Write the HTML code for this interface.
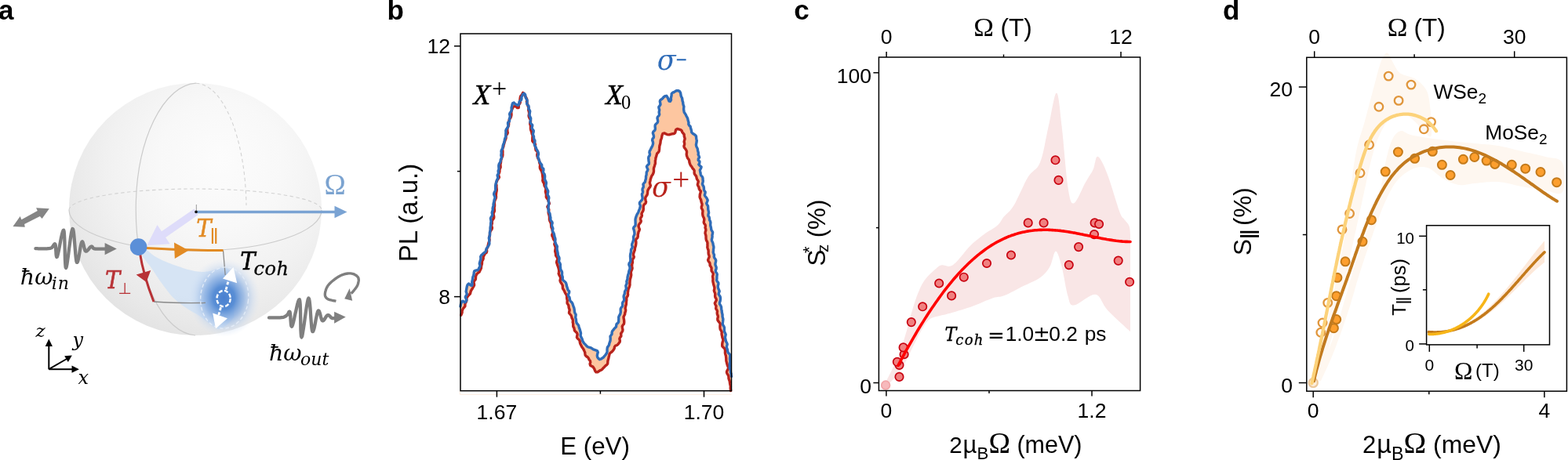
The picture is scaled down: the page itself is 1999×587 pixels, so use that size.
<!DOCTYPE html>
<html><head><meta charset="utf-8"><title>Figure</title>
<style>html,body{margin:0;padding:0;background:#fff;} svg{display:block;}</style>
</head><body>
<svg width="1999" height="587" viewBox="0 0 1999 587">
<rect width="1999" height="587" fill="#fff"/>
<text x="-2.0" y="24.9" font-family="'Liberation Sans', Arial, sans-serif" font-size="35" text-anchor="start" fill="#000" font-weight="bold">a</text>
<text x="493.6" y="24.9" font-family="'Liberation Sans', Arial, sans-serif" font-size="35" text-anchor="start" fill="#000" font-weight="bold">b</text>
<text x="1012.3" y="24.9" font-family="'Liberation Sans', Arial, sans-serif" font-size="35" text-anchor="start" fill="#000" font-weight="bold">c</text>
<text x="1559.0" y="24.9" font-family="'Liberation Sans', Arial, sans-serif" font-size="35" text-anchor="start" fill="#000" font-weight="bold">d</text>
<path d="M587.0,391.0 L587.3,389.2 L587.7,387.5 L588.5,385.8 L589.2,384.6 L589.9,384.1 L591.5,384.9 L592.4,385.9 L593.8,384.8 L594.8,383.1 L594.1,381.1 L593.3,379.2 L594.0,377.5 L595.3,375.8 L594.9,374.0 L594.2,372.1 L594.5,370.3 L594.8,368.5 L595.1,366.7 L595.5,364.9 L596.2,363.2 L597.5,362.0 L598.9,363.0 L600.2,364.1 L601.7,364.3 L602.1,362.4 L601.7,360.4 L601.9,358.7 L602.4,356.9 L602.6,355.1 L602.9,353.4 L603.6,351.6 L604.1,349.9 L604.2,348.1 L604.6,346.0 L606.5,345.1 L608.3,344.8 L609.3,344.6 L610.1,343.4 L610.8,341.8 L611.9,340.2 L611.9,338.4 L611.3,336.4 L611.7,334.7 L612.2,332.9 L612.8,331.2 L612.9,329.4 L612.7,327.5 L613.6,325.8 L615.1,324.4 L616.4,323.3 L617.8,322.1 L619.1,321.0 L619.7,319.4 L620.0,317.6 L621.0,316.1 L622.2,314.5 L623.2,312.8 L623.9,311.1 L623.8,309.3 L623.7,307.4 L623.7,305.6 L623.3,303.7 L623.9,301.9 L624.5,300.2 L624.4,298.4 L624.4,296.6 L624.8,294.8 L625.1,293.0 L625.0,291.2 L625.2,289.4 L625.6,287.7 L625.6,285.8 L625.8,284.0 L626.1,282.3 L625.7,280.4 L625.4,278.5 L626.3,276.8 L627.5,275.2 L627.6,273.4 L627.2,271.5 L627.6,269.8 L628.3,268.0 L628.1,266.2 L628.4,264.4 L629.1,262.7 L629.0,260.9 L629.3,259.1 L629.8,257.4 L630.0,255.6 L630.6,253.8 L631.2,252.1 L630.5,250.2 L629.7,248.3 L629.8,246.5 L630.7,244.8 L631.4,243.1 L631.7,241.3 L631.7,239.5 L631.6,237.6 L631.8,235.8 L632.3,234.1 L632.8,232.3 L633.1,230.6 L633.9,228.9 L635.0,227.2 L634.4,225.3 L634.1,223.4 L635.3,221.8 L635.4,220.0 L635.1,218.1 L635.9,216.4 L636.0,214.6 L635.8,212.7 L635.8,210.9 L636.3,209.2 L637.3,207.5 L638.1,205.9 L638.2,204.0 L639.0,202.4 L639.5,200.6 L638.9,198.7 L639.0,196.9 L639.3,195.1 L639.0,193.2 L639.4,191.5 L640.4,189.8 L641.0,188.1 L641.1,186.3 L641.6,184.5 L642.4,182.8 L642.8,181.1 L643.2,179.4 L643.5,177.6 L644.1,175.9 L644.9,174.2 L644.9,172.4 L644.8,170.5 L645.0,168.7 L644.8,166.8 L645.4,165.1 L646.6,163.5 L647.5,161.9 L648.0,160.2 L647.5,158.2 L647.6,156.4 L649.3,155.0 L649.6,153.2 L649.4,151.3 L650.2,149.6 L650.1,147.7 L649.6,145.7 L650.2,144.1 L651.4,142.5 L652.3,140.8 L652.1,138.9 L652.1,137.1 L652.7,135.4 L652.9,133.6 L653.6,131.8 L655.2,130.9 L656.1,132.2 L657.5,133.2 L659.4,133.9 L660.4,134.4 L661.3,133.8 L661.8,132.2 L661.9,130.4 L662.8,128.8 L664.6,127.4 L665.0,125.6 L664.7,123.7 L665.9,122.2 L666.3,120.6 L668.1,119.2 L669.7,120.9 L669.9,123.0 L670.3,124.8 L671.2,126.4 L672.1,128.0 L672.2,129.9 L671.6,131.9 L672.1,133.5 L673.9,135.0 L674.2,136.7 L673.7,138.6 L674.9,140.3 L675.7,142.0 L675.4,143.8 L675.1,145.7 L675.1,147.5 L675.9,149.2 L676.7,150.9 L676.6,152.8 L676.1,154.6 L676.1,156.5 L677.3,158.1 L678.7,159.7 L678.5,161.6 L677.9,163.5 L679.0,165.1 L680.3,166.7 L680.1,168.5 L679.5,170.5 L679.6,172.3 L680.5,174.0 L680.5,175.8 L680.8,177.6 L681.9,179.2 L681.9,181.1 L681.2,183.1 L681.4,184.9 L682.4,186.5 L683.2,188.2 L683.7,189.9 L684.6,191.5 L685.6,193.1 L686.2,194.8 L686.5,196.6 L686.0,198.6 L685.7,200.5 L686.6,202.1 L687.1,203.9 L687.5,205.6 L688.4,207.3 L689.4,208.9 L690.7,210.4 L690.7,212.2 L691.1,214.0 L692.8,215.4 L692.9,217.2 L692.3,219.3 L693.1,220.9 L694.2,222.5 L694.6,224.3 L694.6,226.1 L694.4,228.0 L694.8,229.7 L695.8,231.4 L696.4,233.1 L696.2,235.0 L695.8,236.9 L696.2,238.6 L696.9,240.3 L697.8,242.0 L698.7,243.7 L698.6,245.5 L698.0,247.4 L698.4,249.2 L699.5,250.9 L699.8,252.7 L699.4,254.5 L699.3,256.3 L699.6,258.1 L699.6,259.9 L699.4,261.7 L699.2,263.6 L699.1,265.4 L699.0,267.2 L699.2,269.1 L699.9,270.8 L700.9,272.4 L701.2,274.2 L701.4,276.0 L701.9,277.8 L701.8,279.6 L702.1,281.4 L703.6,282.9 L704.2,284.6 L703.6,286.6 L703.6,288.4 L704.4,290.1 L704.9,291.8 L704.4,293.8 L704.7,295.6 L705.8,297.2 L706.4,298.9 L706.7,300.7 L707.1,302.4 L707.8,304.1 L708.0,305.9 L707.6,307.8 L708.0,309.6 L708.6,311.3 L709.5,312.9 L710.4,314.6 L710.1,316.5 L710.1,318.3 L710.5,320.1 L710.9,321.8 L711.2,323.6 L711.3,325.4 L712.0,327.1 L712.9,328.8 L713.0,330.6 L712.6,332.5 L712.7,334.3 L713.9,335.9 L714.4,337.7 L714.2,339.5 L714.5,341.3 L714.6,343.2 L715.2,344.8 L716.3,346.4 L716.6,348.2 L716.4,350.1 L716.7,351.9 L717.3,353.6 L717.2,355.5 L717.5,357.3 L719.2,358.7 L720.8,360.0 L721.7,361.6 L722.2,363.4 L722.5,365.1 L723.1,366.8 L723.6,368.6 L724.2,370.3 L725.7,371.7 L725.6,373.6 L724.4,376.0 L724.7,377.7 L725.9,379.2 L726.3,381.0 L726.5,382.8 L727.4,384.4 L728.9,385.8 L729.9,387.4 L730.4,389.1 L731.0,390.8 L731.7,392.5 L732.1,394.3 L732.3,396.1 L732.5,397.9 L733.0,399.6 L734.1,401.2 L734.0,403.1 L733.6,405.0 L734.2,406.7 L734.5,408.5 L734.6,410.3 L735.1,412.1 L736.3,413.6 L737.6,415.2 L738.0,416.9 L738.5,418.7 L739.2,420.3 L739.6,422.1 L740.2,423.8 L740.5,425.6 L740.1,427.5 L740.4,429.3 L741.3,430.9 L742.1,432.5 L742.5,434.2 L743.1,435.8 L744.1,437.3 L745.2,438.6 L746.5,439.9 L747.7,441.3 L749.0,442.5 L750.7,443.2 L752.6,443.6 L754.2,444.3 L755.7,445.4 L757.3,446.2 L759.3,446.8 L761.5,447.8 L762.3,449.6 L761.6,451.9 L761.3,454.0 L761.7,455.8 L762.8,457.4 L764.4,458.7 L766.2,458.2 L767.5,457.2 L769.0,456.3 L770.2,454.9 L771.4,453.5 L772.5,452.1 L773.5,450.5 L774.1,448.8 L774.0,446.9 L774.1,445.0 L774.4,443.3 L775.5,441.7 L776.5,440.1 L776.8,438.3 L777.4,436.6 L778.0,434.9 L778.2,433.1 L778.2,431.2 L778.0,429.3 L779.1,427.8 L780.1,426.3 L780.1,424.3 L780.6,422.5 L781.8,421.1 L782.9,419.7 L784.1,418.4 L785.5,417.1 L785.7,415.2 L786.1,413.4 L787.8,412.1 L788.7,410.4 L788.7,408.5 L788.8,406.7 L788.7,404.8 L789.3,403.1 L790.3,401.5 L791.0,399.8 L791.3,398.1 L791.2,396.2 L791.2,394.3 L791.9,392.7 L793.3,391.2 L793.8,389.5 L793.5,387.5 L793.9,385.7 L795.1,384.2 L795.8,382.5 L795.5,380.6 L795.1,378.6 L795.4,376.9 L796.2,375.2 L796.4,373.4 L796.7,371.6 L797.8,370.0 L798.4,368.3 L798.1,366.4 L797.8,364.5 L798.7,362.8 L799.2,361.1 L798.8,359.2 L799.4,357.5 L800.0,355.8 L800.0,353.9 L800.4,352.2 L800.8,350.4 L801.5,348.7 L801.7,346.9 L802.1,345.2 L802.9,343.5 L803.1,341.7 L802.7,339.8 L801.8,337.8 L802.1,336.1 L803.4,334.4 L803.8,332.7 L803.8,330.8 L803.7,329.0 L803.5,327.2 L803.6,325.4 L803.9,323.6 L804.3,321.8 L804.5,320.0 L804.6,318.2 L805.7,316.6 L806.3,314.8 L805.6,312.9 L805.8,311.1 L806.6,309.4 L807.1,307.7 L807.7,305.9 L807.7,304.1 L807.5,302.3 L808.2,300.5 L808.9,298.8 L808.9,297.0 L808.6,295.2 L808.2,293.3 L807.5,291.4 L808.2,289.7 L809.8,288.1 L810.2,286.3 L810.1,284.5 L810.1,282.7 L810.0,280.8 L810.2,279.0 L810.7,277.3 L811.3,275.6 L812.0,273.9 L812.9,272.3 L813.8,270.8 L814.4,269.0 L815.1,267.4 L815.7,265.6 L816.2,263.9 L816.3,262.1 L815.4,260.1 L815.5,258.3 L817.0,256.7 L818.4,255.1 L819.1,253.4 L819.0,251.6 L818.6,249.7 L818.4,247.8 L819.2,246.1 L819.5,244.4 L819.0,242.4 L819.2,240.6 L820.2,239.0 L820.3,237.1 L819.9,235.2 L821.1,233.6 L822.4,232.1 L822.7,230.3 L823.3,228.6 L823.5,226.8 L823.5,225.0 L824.1,223.3 L824.2,221.5 L824.3,219.7 L825.4,218.0 L826.0,216.3 L825.0,214.3 L824.4,212.4 L825.6,210.7 L827.3,209.2 L827.4,207.4 L827.0,205.5 L826.9,203.7 L826.7,201.8 L827.0,200.0 L828.2,198.4 L828.5,196.6 L827.9,194.7 L828.2,192.9 L829.1,191.3 L829.9,189.6 L830.8,187.9 L831.7,186.2 L832.3,184.5 L832.6,182.7 L832.3,180.9 L831.6,178.9 L832.0,177.1 L833.3,175.6 L833.5,173.8 L833.0,171.8 L832.3,169.8 L832.9,168.1 L834.6,166.6 L835.3,165.0 L835.3,163.1 L835.1,161.2 L835.3,159.4 L836.7,157.9 L838.2,156.4 L838.7,154.7 L838.4,152.7 L838.0,150.8 L838.5,149.1 L840.0,147.6 L840.7,145.9 L840.2,143.9 L840.3,142.1 L840.7,140.3 L840.1,138.4 L839.8,136.5 L841.1,134.9 L842.0,133.3 L841.7,131.3 L841.3,129.3 L841.9,127.6 L844.0,126.3 L845.3,125.1 L846.2,123.7 L847.8,122.7 L849.8,122.3 L850.9,124.0 L851.7,125.7 L852.3,127.3 L853.0,129.0 L854.6,129.2 L855.5,127.4 L855.3,125.4 L855.7,123.6 L856.1,121.9 L856.2,119.6 L857.6,118.1 L859.6,117.5 L861.1,116.4 L862.9,115.6 L864.9,115.7 L866.6,116.8 L867.5,118.4 L867.9,120.3 L868.1,122.1 L868.8,123.7 L869.6,125.3 L869.8,127.1 L870.1,128.9 L870.7,130.6 L870.8,132.4 L871.2,134.2 L871.9,135.9 L871.7,137.7 L871.6,139.6 L871.9,141.4 L872.2,143.2 L873.3,144.8 L874.3,146.4 L875.0,148.0 L875.9,149.6 L876.7,151.2 L877.0,153.0 L877.5,154.7 L878.0,156.5 L877.8,158.5 L878.6,160.1 L880.1,161.4 L880.5,163.2 L881.0,165.0 L881.5,166.8 L881.7,168.8 L883.0,170.2 L884.6,171.2 L886.3,172.4 L887.5,173.9 L887.6,175.8 L887.9,177.6 L888.3,179.4 L888.1,181.2 L887.7,183.1 L887.4,184.9 L887.8,186.7 L888.6,188.4 L889.4,190.1 L889.5,191.9 L890.0,193.7 L890.4,195.4 L890.1,197.3 L891.0,199.0 L891.6,200.7 L890.3,202.7 L890.2,204.5 L891.9,206.1 L891.8,207.9 L890.8,209.9 L892.3,211.5 L894.1,213.1 L893.5,215.0 L892.3,217.0 L892.6,218.8 L893.0,220.5 L893.2,222.3 L893.9,224.0 L895.3,225.6 L896.0,227.3 L896.0,229.1 L896.3,230.9 L896.0,232.8 L895.4,234.8 L896.1,236.5 L897.1,238.1 L897.4,239.9 L897.4,241.7 L898.0,243.4 L899.2,245.0 L898.9,246.9 L898.3,248.9 L899.1,250.5 L900.5,252.1 L901.5,253.8 L902.2,255.5 L901.6,257.4 L900.7,259.4 L901.4,261.1 L902.5,262.7 L902.7,264.5 L902.7,266.3 L902.9,268.1 L903.4,269.9 L903.6,271.7 L903.0,273.6 L902.9,275.4 L904.1,277.1 L904.5,278.8 L904.5,280.6 L905.5,282.3 L905.9,284.1 L905.7,285.9 L905.7,287.7 L906.2,289.5 L906.6,291.3 L906.7,293.0 L907.6,294.7 L908.6,296.4 L908.4,298.3 L907.9,300.2 L908.1,301.9 L907.8,303.8 L907.3,305.7 L907.6,307.5 L908.5,309.2 L909.0,310.9 L909.2,312.7 L909.8,314.4 L909.9,316.2 L909.5,318.1 L909.5,319.9 L909.2,321.8 L909.7,323.5 L910.5,325.2 L910.3,327.1 L910.6,328.8 L911.9,330.5 L912.7,332.2 L912.5,334.0 L912.0,335.9 L911.9,337.8 L912.5,339.5 L913.2,341.2 L913.1,343.0 L912.3,345.0 L912.4,346.8 L913.6,348.4 L914.3,350.1 L914.0,352.0 L913.9,353.8 L913.9,355.7 L913.6,357.5 L914.4,359.2 L915.8,360.8 L915.9,362.6 L915.2,364.6 L915.3,366.4 L915.7,368.1 L916.5,369.8 L917.2,371.6 L916.6,373.4 L916.1,375.3 L917.1,377.0 L918.2,378.7 L918.5,380.5 L918.4,382.3 L918.1,384.1 L917.4,386.1 L917.4,387.9 L918.5,389.5 L919.4,391.2 L919.6,393.0 L919.8,394.8 L920.2,396.6 L920.3,398.4 L920.7,400.1 L921.1,401.9 L921.0,403.7 L921.4,405.5 L921.9,407.2 L921.7,409.1 L921.5,410.9 L921.2,412.8 L921.6,414.6 L922.7,416.2 L923.4,417.9 L923.4,419.8 L923.3,421.6 L923.7,423.4 L924.4,425.1 L925.2,426.7 L924.9,428.6 L924.3,430.5 L924.8,432.3 L925.2,434.1 L925.6,435.8 L926.6,437.5 L927.2,439.2 L926.7,441.1 L926.3,443.0 L926.9,444.7 L927.5,446.4 L927.7,448.2 L928.2,450.0 L929.8,451.6 L930.9,453.2 L930.7,455.1 L930.5,456.9 L930.5,458.7 L930.8,460.5 L930.7,462.3 L930.2,464.2 L930.3,466.0 L930.3,467.9 L930.2,469.7 L931.1,471.4 L931.4,473.1 L931.4,475.0 L932.0,476.7 L932.2,478.5 L932.5,480.3 L931.6,498.5 L931.4,496.7 L931.2,494.9 L931.4,493.1 L931.0,491.3 L930.6,489.5 L930.4,487.7 L930.1,486.0 L929.4,484.3 L928.9,482.5 L929.0,480.7 L928.4,478.9 L927.3,477.3 L926.5,475.6 L926.6,473.8 L927.8,471.7 L928.7,469.8 L928.2,468.0 L927.4,466.3 L926.9,464.6 L926.5,462.8 L926.0,461.1 L925.8,459.3 L925.8,457.5 L925.6,455.7 L925.4,453.9 L924.8,452.2 L924.4,450.4 L924.5,448.6 L924.4,446.8 L924.0,445.0 L922.4,443.5 L920.8,441.9 L920.7,440.1 L920.8,438.3 L921.2,436.4 L922.0,434.4 L921.7,432.6 L920.9,430.9 L920.7,429.2 L920.2,427.4 L920.0,425.6 L920.2,423.8 L919.4,422.1 L918.3,420.4 L918.0,418.7 L917.9,416.9 L918.0,415.0 L918.2,413.1 L917.1,411.5 L915.8,409.9 L914.9,408.3 L914.8,406.4 L915.4,404.5 L915.2,402.7 L914.4,401.0 L914.2,399.2 L914.5,397.3 L913.9,395.6 L912.7,394.0 L912.8,392.2 L913.0,390.3 L911.9,388.6 L911.3,386.9 L912.4,384.9 L913.4,383.0 L913.0,381.2 L911.9,379.5 L911.6,377.8 L911.8,375.9 L911.6,374.1 L910.8,372.4 L910.3,370.7 L910.8,368.8 L910.9,367.0 L910.4,365.2 L909.8,363.5 L909.4,361.7 L909.0,359.9 L908.8,358.2 L909.0,356.3 L908.8,354.5 L908.5,352.7 L909.1,350.8 L909.3,349.0 L908.3,347.3 L907.1,345.7 L907.0,343.9 L907.1,342.0 L906.2,340.3 L905.1,338.7 L905.1,336.9 L904.7,335.1 L903.3,333.6 L902.6,331.8 L903.3,329.9 L904.2,327.9 L904.0,326.1 L903.3,324.4 L903.1,322.6 L903.2,320.8 L903.0,319.0 L902.3,317.3 L901.8,315.5 L902.0,313.7 L901.9,311.9 L902.0,310.1 L901.5,308.3 L900.5,306.6 L900.1,304.9 L900.0,303.1 L900.0,301.2 L899.6,299.5 L899.0,297.7 L899.2,295.9 L899.9,294.0 L899.7,292.2 L899.0,290.5 L899.4,288.6 L899.1,286.8 L897.7,285.2 L897.2,283.5 L897.6,281.6 L897.8,279.7 L897.3,278.0 L896.4,276.3 L895.9,274.5 L895.7,272.8 L895.8,270.9 L896.0,269.1 L895.4,267.4 L894.3,265.7 L894.3,263.9 L895.0,262.0 L895.0,260.1 L894.3,258.4 L893.9,256.7 L893.6,254.9 L892.7,253.2 L892.1,251.5 L892.2,249.7 L892.4,247.8 L893.1,245.8 L893.4,243.9 L892.0,242.4 L891.2,240.7 L891.0,238.9 L890.0,237.3 L889.3,235.6 L889.8,233.6 L890.3,231.6 L889.5,230.0 L888.4,228.4 L888.0,226.6 L887.6,224.9 L886.4,223.4 L885.3,221.8 L885.1,220.0 L885.2,218.0 L884.5,216.4 L883.1,215.0 L882.2,213.4 L881.2,211.9 L880.1,210.4 L879.4,208.7 L878.9,207.0 L878.7,205.1 L878.0,203.4 L876.8,202.0 L876.1,200.3 L875.5,198.6 L875.2,196.8 L875.5,194.9 L875.5,193.1 L874.7,191.4 L873.6,189.8 L872.3,188.1 L871.9,186.4 L872.6,184.5 L872.6,182.6 L872.1,180.9 L872.6,179.0 L873.2,177.1 L872.7,175.3 L872.2,173.5 L872.2,171.6 L871.0,170.1 L869.7,168.6 L869.2,166.8 L867.7,165.6 L865.9,165.2 L864.8,164.7 L863.4,164.5 L861.7,165.5 L861.2,167.3 L860.8,169.2 L859.4,170.6 L857.5,170.8 L855.7,171.1 L854.0,171.8 L852.2,171.9 L850.4,171.6 L848.7,170.7 L847.0,169.9 L845.1,170.3 L844.3,172.1 L843.8,173.8 L843.6,175.6 L843.0,177.3 L842.3,179.0 L842.1,180.8 L841.9,182.6 L841.4,184.4 L840.9,186.1 L840.7,187.9 L840.6,189.7 L840.4,191.5 L840.1,193.3 L839.0,194.8 L837.6,196.1 L837.1,197.9 L836.6,199.7 L836.0,201.4 L835.8,203.3 L835.4,205.0 L835.4,206.9 L835.4,208.7 L834.8,210.4 L834.3,212.2 L833.7,213.9 L833.4,215.6 L833.5,217.5 L833.4,219.3 L832.9,221.1 L832.1,222.7 L831.0,224.2 L830.3,225.9 L829.7,227.6 L829.2,229.3 L828.9,231.1 L828.4,232.9 L828.7,234.8 L829.4,236.8 L828.8,238.5 L827.5,240.1 L826.5,241.7 L825.8,243.3 L825.6,245.1 L825.5,247.0 L825.0,248.7 L823.9,250.3 L822.9,251.9 L822.7,253.7 L823.1,255.6 L823.6,257.6 L823.1,259.4 L821.4,260.8 L820.4,262.4 L820.2,264.2 L820.3,266.1 L820.2,267.9 L819.6,269.6 L818.6,271.2 L817.9,272.9 L818.4,274.9 L817.9,276.6 L816.6,278.2 L816.6,280.0 L817.3,282.0 L816.8,283.7 L815.4,285.3 L814.4,286.9 L814.0,288.7 L814.6,290.6 L815.4,292.6 L814.9,294.4 L814.0,296.0 L813.7,297.8 L813.2,299.6 L813.3,301.4 L812.9,303.2 L811.4,304.7 L810.4,306.3 L810.8,308.2 L810.9,310.1 L810.7,311.9 L810.4,313.7 L809.8,315.4 L809.4,317.1 L809.3,319.0 L808.6,320.7 L808.0,322.4 L807.5,324.1 L807.6,326.0 L808.3,327.9 L807.6,329.6 L806.2,331.2 L806.3,333.1 L806.5,334.9 L805.9,336.6 L805.6,338.4 L805.8,340.3 L806.1,342.1 L805.7,343.9 L804.9,345.6 L804.3,347.3 L804.5,349.2 L804.7,351.0 L804.3,352.8 L803.9,354.6 L803.3,356.3 L803.1,358.1 L803.0,359.9 L802.9,361.7 L803.0,363.5 L802.6,365.3 L802.0,367.0 L801.2,368.7 L800.8,370.5 L800.6,372.3 L800.3,374.0 L800.6,375.9 L800.2,377.7 L799.0,379.3 L798.7,381.1 L798.8,382.9 L798.5,384.7 L798.4,386.5 L798.3,388.3 L797.9,390.1 L797.4,391.8 L797.1,393.6 L797.7,395.5 L797.5,397.3 L796.8,399.0 L796.7,400.8 L795.9,402.5 L795.0,404.2 L795.1,406.0 L795.5,407.9 L795.7,409.8 L795.7,411.6 L795.4,413.4 L794.0,415.0 L793.2,416.6 L793.5,418.5 L793.9,420.4 L793.8,422.2 L792.8,423.9 L791.6,425.5 L791.8,427.3 L791.8,429.2 L790.5,430.7 L789.8,432.4 L790.3,434.4 L790.2,436.3 L789.1,437.8 L788.0,439.3 L786.6,440.5 L784.7,441.1 L783.5,442.5 L783.2,444.6 L782.3,446.2 L781.2,447.6 L780.0,449.0 L778.3,450.1 L777.1,451.5 L776.7,453.4 L776.2,455.2 L775.9,457.0 L775.4,458.7 L774.9,460.4 L774.8,462.3 L774.6,464.2 L773.4,465.7 L771.8,466.9 L770.6,468.2 L769.3,469.4 L768.2,470.8 L766.9,472.0 L765.3,472.6 L763.9,473.4 L762.2,474.7 L759.9,474.9 L758.6,473.2 L757.9,471.2 L757.0,469.6 L756.0,468.1 L754.3,467.3 L752.6,466.2 L752.1,464.4 L752.7,462.2 L752.3,460.4 L751.1,459.0 L750.4,457.3 L749.2,455.8 L747.5,454.7 L746.2,453.3 L745.9,451.4 L745.7,449.6 L744.9,447.9 L744.2,446.3 L743.3,444.7 L742.2,443.3 L741.3,441.7 L740.5,440.1 L739.7,438.5 L739.3,436.7 L739.1,434.9 L738.1,433.3 L736.4,432.0 L735.4,430.4 L735.8,428.4 L736.1,426.4 L735.4,424.7 L733.9,423.3 L732.5,421.9 L732.2,420.1 L731.8,418.3 L730.8,416.8 L730.7,414.9 L730.7,413.0 L730.2,411.3 L730.4,409.4 L730.1,407.5 L729.1,406.0 L728.7,404.2 L728.1,402.5 L726.8,401.0 L725.5,399.5 L725.7,397.6 L726.2,395.6 L725.6,393.9 L725.1,392.2 L725.0,390.4 L724.3,388.7 L723.1,387.1 L723.1,385.2 L723.3,383.4 L722.8,381.6 L722.6,379.8 L722.6,377.9 L722.1,376.2 L721.0,374.6 L720.1,373.0 L719.5,371.3 L718.6,369.8 L717.5,368.3 L717.3,366.4 L717.3,364.5 L716.6,362.9 L715.5,361.3 L714.5,359.7 L714.0,358.0 L714.5,356.0 L714.6,354.2 L713.8,352.5 L712.8,350.8 L712.2,349.1 L712.5,347.2 L712.7,345.4 L712.4,343.6 L711.9,341.8 L711.4,340.1 L710.7,338.4 L710.2,336.7 L709.6,334.9 L709.9,333.1 L710.9,331.1 L710.7,329.3 L709.6,327.6 L708.6,326.0 L708.5,324.2 L708.2,322.4 L707.7,320.7 L707.9,318.8 L708.3,316.9 L708.1,315.1 L707.4,313.4 L706.8,311.7 L707.2,309.8 L707.5,307.9 L706.3,306.3 L705.3,304.6 L705.0,302.9 L703.9,301.2 L703.8,299.4 L704.7,297.4 L704.5,295.6 L704.2,293.9 L703.8,292.1 L703.0,290.4 L702.7,288.6 L702.6,286.8 L702.4,285.0 L701.7,283.3 L700.8,281.7 L700.4,279.9 L700.5,278.1 L700.4,276.3 L700.0,274.5 L699.4,272.8 L699.1,271.0 L699.7,269.1 L699.8,267.2 L698.6,265.6 L697.8,263.9 L699.0,261.9 L700.4,259.9 L699.9,258.2 L699.0,256.5 L698.7,254.7 L697.3,253.1 L696.3,251.4 L696.4,249.6 L696.3,247.7 L695.8,246.0 L695.4,244.3 L695.8,242.4 L695.9,240.5 L695.1,238.8 L694.1,237.2 L693.8,235.4 L693.5,233.6 L692.3,232.1 L691.8,230.3 L692.1,228.4 L692.0,226.6 L691.7,224.8 L691.6,223.0 L691.3,221.2 L690.8,219.4 L690.1,217.8 L689.1,216.2 L688.4,214.5 L688.3,212.7 L688.7,210.7 L688.3,209.0 L687.6,207.3 L687.6,205.4 L686.9,203.7 L685.9,202.1 L685.3,200.4 L684.8,198.7 L684.8,196.8 L685.5,194.8 L684.8,193.2 L683.1,191.7 L682.8,189.9 L682.6,188.1 L682.2,186.4 L682.5,184.5 L681.8,182.8 L679.7,181.4 L678.7,179.8 L678.8,177.9 L678.8,176.0 L679.0,174.2 L678.9,172.4 L678.1,170.7 L677.8,168.9 L677.2,167.2 L676.6,165.4 L676.4,163.6 L676.5,161.8 L676.3,160.0 L675.7,158.3 L675.8,156.4 L676.6,154.5 L676.2,152.7 L675.2,151.1 L674.4,149.4 L674.1,147.6 L674.4,145.7 L674.6,143.9 L674.2,142.1 L673.7,140.4 L673.8,138.5 L673.6,136.7 L673.0,135.0 L672.5,133.3 L672.0,131.6 L671.4,129.9 L671.7,127.9 L671.6,126.1 L670.6,124.5 L669.7,122.9 L668.9,121.2 L668.2,119.5 L666.7,118.4 L665.8,120.0 L665.0,121.5 L663.6,123.0 L663.2,124.8 L663.0,126.6 L662.8,128.4 L663.3,130.4 L662.7,132.1 L661.4,133.6 L661.3,135.4 L661.2,137.5 L659.4,137.5 L658.2,136.2 L656.4,135.7 L654.4,136.1 L653.5,137.8 L652.8,139.5 L652.2,141.2 L651.8,143.0 L651.9,144.9 L652.0,146.7 L651.6,148.5 L651.0,150.2 L649.8,151.7 L649.0,153.4 L648.8,155.2 L648.6,157.0 L648.6,158.9 L648.3,160.7 L647.5,162.3 L646.9,164.0 L646.8,165.8 L646.9,167.7 L647.3,169.6 L646.5,171.3 L645.0,172.8 L645.0,174.7 L645.0,176.5 L644.3,178.2 L643.7,179.9 L643.1,181.6 L642.7,183.4 L642.1,185.1 L641.9,186.9 L641.2,188.6 L640.5,190.3 L640.8,192.2 L640.9,194.0 L640.8,195.9 L640.9,197.7 L640.6,199.5 L639.8,201.1 L639.2,202.9 L638.7,204.6 L638.6,206.4 L638.3,208.2 L637.8,209.9 L638.1,211.8 L638.1,213.7 L637.3,215.3 L636.9,217.1 L636.9,218.9 L636.4,220.7 L635.5,222.3 L635.7,224.2 L636.4,226.1 L635.5,227.8 L634.2,229.4 L633.5,231.1 L632.6,232.8 L632.5,234.6 L633.0,236.5 L632.9,238.3 L633.1,240.2 L633.3,242.0 L633.1,243.8 L632.7,245.6 L632.5,247.4 L632.3,249.2 L632.5,251.0 L632.3,252.8 L631.5,254.5 L630.8,256.2 L630.4,258.0 L630.4,259.8 L630.6,261.6 L630.5,263.4 L630.1,265.2 L630.2,267.0 L630.5,268.9 L629.9,270.6 L629.1,272.3 L629.2,274.2 L629.7,276.0 L629.7,277.9 L628.8,279.6 L627.6,281.2 L627.1,282.9 L627.4,284.8 L626.9,286.5 L626.6,288.3 L627.4,290.3 L627.2,292.1 L626.1,293.7 L625.0,295.3 L624.6,297.0 L624.5,298.9 L624.3,300.7 L623.9,302.4 L623.8,304.2 L624.1,306.1 L623.7,307.9 L623.0,309.6 L622.6,311.3 L622.2,313.1 L621.9,314.9 L621.1,316.5 L620.3,318.2 L620.7,320.3 L620.3,322.2 L618.6,323.3 L617.7,324.8 L616.9,326.4 L616.1,328.1 L616.2,330.0 L615.6,331.6 L614.5,333.3 L614.5,335.1 L614.4,336.9 L613.8,338.6 L613.5,340.4 L613.4,342.3 L612.6,343.9 L611.8,345.5 L611.1,347.1 L609.5,348.2 L608.0,349.5 L607.1,351.2 L606.5,352.9 L606.5,354.8 L606.2,356.6 L604.9,358.2 L603.9,359.8 L604.3,361.7 L604.6,363.7 L603.9,365.3 L602.9,366.9 L602.1,368.5 L601.0,370.1 L600.2,371.6 L599.8,373.3 L599.5,374.7 L598.5,375.7 L597.2,377.0 L596.1,378.4 L595.1,380.0 L594.9,381.8 L594.8,383.7 L594.2,385.4 L593.1,386.9 L592.9,388.7 L592.9,390.7 L591.8,392.2 L590.5,393.6 L589.7,395.2 L589.1,396.9 L589.1,398.9 L588.5,400.5 L587.8,402.2 Z" fill="#fdc6a0" stroke="none"/>
<path d="M587.8,402.2 L588.5,400.5 L589.1,398.9 L589.1,396.9 L589.7,395.2 L590.5,393.6 L591.8,392.2 L592.9,390.7 L592.9,388.7 L593.1,386.9 L594.2,385.4 L594.8,383.7 L594.9,381.8 L595.1,380.0 L596.1,378.4 L597.2,377.0 L598.5,375.7 L599.5,374.7 L599.8,373.3 L600.2,371.6 L601.0,370.1 L602.1,368.5 L602.9,366.9 L603.9,365.3 L604.6,363.7 L604.3,361.7 L603.9,359.8 L604.9,358.2 L606.2,356.6 L606.5,354.8 L606.5,352.9 L607.1,351.2 L608.0,349.5 L609.5,348.2 L611.1,347.1 L611.8,345.5 L612.6,343.9 L613.4,342.3 L613.5,340.4 L613.8,338.6 L614.4,336.9 L614.5,335.1 L614.5,333.3 L615.6,331.6 L616.2,330.0 L616.1,328.1 L616.9,326.4 L617.7,324.8 L618.6,323.3 L620.3,322.2 L620.7,320.3 L620.3,318.2 L621.1,316.5 L621.9,314.9 L622.2,313.1 L622.6,311.3 L623.0,309.6 L623.7,307.9 L624.1,306.1 L623.8,304.2 L623.9,302.4 L624.3,300.7 L624.5,298.9 L624.6,297.0 L625.0,295.3 L626.1,293.7 L627.2,292.1 L627.4,290.3 L626.6,288.3 L626.9,286.5 L627.4,284.8 L627.1,282.9 L627.6,281.2 L628.8,279.6 L629.7,277.9 L629.7,276.0 L629.2,274.2 L629.1,272.3 L629.9,270.6 L630.5,268.9 L630.2,267.0 L630.1,265.2 L630.5,263.4 L630.6,261.6 L630.4,259.8 L630.4,258.0 L630.8,256.2 L631.5,254.5 L632.3,252.8 L632.5,251.0 L632.3,249.2 L632.5,247.4 L632.7,245.6 L633.1,243.8 L633.3,242.0 L633.1,240.2 L632.9,238.3 L633.0,236.5 L632.5,234.6 L632.6,232.8 L633.5,231.1 L634.2,229.4 L635.5,227.8 L636.4,226.1 L635.7,224.2 L635.5,222.3 L636.4,220.7 L636.9,218.9 L636.9,217.1 L637.3,215.3 L638.1,213.7 L638.1,211.8 L637.8,209.9 L638.3,208.2 L638.6,206.4 L638.7,204.6 L639.2,202.9 L639.8,201.1 L640.6,199.5 L640.9,197.7 L640.8,195.9 L640.9,194.0 L640.8,192.2 L640.5,190.3 L641.2,188.6 L641.9,186.9 L642.1,185.1 L642.7,183.4 L643.1,181.6 L643.7,179.9 L644.3,178.2 L645.0,176.5 L645.0,174.7 L645.0,172.8 L646.5,171.3 L647.3,169.6 L646.9,167.7 L646.8,165.8 L646.9,164.0 L647.5,162.3 L648.3,160.7 L648.6,158.9 L648.6,157.0 L648.8,155.2 L649.0,153.4 L649.8,151.7 L651.0,150.2 L651.6,148.5 L652.0,146.7 L651.9,144.9 L651.8,143.0 L652.2,141.2 L652.8,139.5 L653.5,137.8 L654.4,136.1 L656.4,135.7 L658.2,136.2 L659.4,137.5 L661.2,137.5 L661.3,135.4 L661.4,133.6 L662.7,132.1 L663.3,130.4 L662.8,128.4 L663.0,126.6 L663.2,124.8 L663.6,123.0 L665.0,121.5 L665.8,120.0 L666.7,118.4 L668.2,119.5 L668.9,121.2 L669.7,122.9 L670.6,124.5 L671.6,126.1 L671.7,127.9 L671.4,129.9 L672.0,131.6 L672.5,133.3 L673.0,135.0 L673.6,136.7 L673.8,138.5 L673.7,140.4 L674.2,142.1 L674.6,143.9 L674.4,145.7 L674.1,147.6 L674.4,149.4 L675.2,151.1 L676.2,152.7 L676.6,154.5 L675.8,156.4 L675.7,158.3 L676.3,160.0 L676.5,161.8 L676.4,163.6 L676.6,165.4 L677.2,167.2 L677.8,168.9 L678.1,170.7 L678.9,172.4 L679.0,174.2 L678.8,176.0 L678.8,177.9 L678.7,179.8 L679.7,181.4 L681.8,182.8 L682.5,184.5 L682.2,186.4 L682.6,188.1 L682.8,189.9 L683.1,191.7 L684.8,193.2 L685.5,194.8 L684.8,196.8 L684.8,198.7 L685.3,200.4 L685.9,202.1 L686.9,203.7 L687.6,205.4 L687.6,207.3 L688.3,209.0 L688.7,210.7 L688.3,212.7 L688.4,214.5 L689.1,216.2 L690.1,217.8 L690.8,219.4 L691.3,221.2 L691.6,223.0 L691.7,224.8 L692.0,226.6 L692.1,228.4 L691.8,230.3 L692.3,232.1 L693.5,233.6 L693.8,235.4 L694.1,237.2 L695.1,238.8 L695.9,240.5 L695.8,242.4 L695.4,244.3 L695.8,246.0 L696.3,247.7 L696.4,249.6 L696.3,251.4 L697.3,253.1 L698.7,254.7 L699.0,256.5 L699.9,258.2 L700.4,259.9 L699.0,261.9 L697.8,263.9 L698.6,265.6 L699.8,267.2 L699.7,269.1 L699.1,271.0 L699.4,272.8 L700.0,274.5 L700.4,276.3 L700.5,278.1 L700.4,279.9 L700.8,281.7 L701.7,283.3 L702.4,285.0 L702.6,286.8 L702.7,288.6 L703.0,290.4 L703.8,292.1 L704.2,293.9 L704.5,295.6 L704.7,297.4 L703.8,299.4 L703.9,301.2 L705.0,302.9 L705.3,304.6 L706.3,306.3 L707.5,307.9 L707.2,309.8 L706.8,311.7 L707.4,313.4 L708.1,315.1 L708.3,316.9 L707.9,318.8 L707.7,320.7 L708.2,322.4 L708.5,324.2 L708.6,326.0 L709.6,327.6 L710.7,329.3 L710.9,331.1 L709.9,333.1 L709.6,334.9 L710.2,336.7 L710.7,338.4 L711.4,340.1 L711.9,341.8 L712.4,343.6 L712.7,345.4 L712.5,347.2 L712.2,349.1 L712.8,350.8 L713.8,352.5 L714.6,354.2 L714.5,356.0 L714.0,358.0 L714.5,359.7 L715.5,361.3 L716.6,362.9 L717.3,364.5 L717.3,366.4 L717.5,368.3 L718.6,369.8 L719.5,371.3 L720.1,373.0 L721.0,374.6 L722.1,376.2 L722.6,377.9 L722.6,379.8 L722.8,381.6 L723.3,383.4 L723.1,385.2 L723.1,387.1 L724.3,388.7 L725.0,390.4 L725.1,392.2 L725.6,393.9 L726.2,395.6 L725.7,397.6 L725.5,399.5 L726.8,401.0 L728.1,402.5 L728.7,404.2 L729.1,406.0 L730.1,407.5 L730.4,409.4 L730.2,411.3 L730.7,413.0 L730.7,414.9 L730.8,416.8 L731.8,418.3 L732.2,420.1 L732.5,421.9 L733.9,423.3 L735.4,424.7 L736.1,426.4 L735.8,428.4 L735.4,430.4 L736.4,432.0 L738.1,433.3 L739.1,434.9 L739.3,436.7 L739.7,438.5 L740.5,440.1 L741.3,441.7 L742.2,443.3 L743.3,444.7 L744.2,446.3 L744.9,447.9 L745.7,449.6 L745.9,451.4 L746.2,453.3 L747.5,454.7 L749.2,455.8 L750.4,457.3 L751.1,459.0 L752.3,460.4 L752.7,462.2 L752.1,464.4 L752.6,466.2 L754.3,467.3 L756.0,468.1 L757.0,469.6 L757.9,471.2 L758.6,473.2 L759.9,474.9 L762.2,474.7 L763.9,473.4 L765.3,472.6 L766.9,472.0 L768.2,470.8 L769.3,469.4 L770.6,468.2 L771.8,466.9 L773.4,465.7 L774.6,464.2 L774.8,462.3 L774.9,460.4 L775.4,458.7 L775.9,457.0 L776.2,455.2 L776.7,453.4 L777.1,451.5 L778.3,450.1 L780.0,449.0 L781.2,447.6 L782.3,446.2 L783.2,444.6 L783.5,442.5 L784.7,441.1 L786.6,440.5 L788.0,439.3 L789.1,437.8 L790.2,436.3 L790.3,434.4 L789.8,432.4 L790.5,430.7 L791.8,429.2 L791.8,427.3 L791.6,425.5 L792.8,423.9 L793.8,422.2 L793.9,420.4 L793.5,418.5 L793.2,416.6 L794.0,415.0 L795.4,413.4 L795.7,411.6 L795.7,409.8 L795.5,407.9 L795.1,406.0 L795.0,404.2 L795.9,402.5 L796.7,400.8 L796.8,399.0 L797.5,397.3 L797.7,395.5 L797.1,393.6 L797.4,391.8 L797.9,390.1 L798.3,388.3 L798.4,386.5 L798.5,384.7 L798.8,382.9 L798.7,381.1 L799.0,379.3 L800.2,377.7 L800.6,375.9 L800.3,374.0 L800.6,372.3 L800.8,370.5 L801.2,368.7 L802.0,367.0 L802.6,365.3 L803.0,363.5 L802.9,361.7 L803.0,359.9 L803.1,358.1 L803.3,356.3 L803.9,354.6 L804.3,352.8 L804.7,351.0 L804.5,349.2 L804.3,347.3 L804.9,345.6 L805.7,343.9 L806.1,342.1 L805.8,340.3 L805.6,338.4 L805.9,336.6 L806.5,334.9 L806.3,333.1 L806.2,331.2 L807.6,329.6 L808.3,327.9 L807.6,326.0 L807.5,324.1 L808.0,322.4 L808.6,320.7 L809.3,319.0 L809.4,317.1 L809.8,315.4 L810.4,313.7 L810.7,311.9 L810.9,310.1 L810.8,308.2 L810.4,306.3 L811.4,304.7 L812.9,303.2 L813.3,301.4 L813.2,299.6 L813.7,297.8 L814.0,296.0 L814.9,294.4 L815.4,292.6 L814.6,290.6 L814.0,288.7 L814.4,286.9 L815.4,285.3 L816.8,283.7 L817.3,282.0 L816.6,280.0 L816.6,278.2 L817.9,276.6 L818.4,274.9 L817.9,272.9 L818.6,271.2 L819.6,269.6 L820.2,267.9 L820.3,266.1 L820.2,264.2 L820.4,262.4 L821.4,260.8 L823.1,259.4 L823.6,257.6 L823.1,255.6 L822.7,253.7 L822.9,251.9 L823.9,250.3 L825.0,248.7 L825.5,247.0 L825.6,245.1 L825.8,243.3 L826.5,241.7 L827.5,240.1 L828.8,238.5 L829.4,236.8 L828.7,234.8 L828.4,232.9 L828.9,231.1 L829.2,229.3 L829.7,227.6 L830.3,225.9 L831.0,224.2 L832.1,222.7 L832.9,221.1 L833.4,219.3 L833.5,217.5 L833.4,215.6 L833.7,213.9 L834.3,212.2 L834.8,210.4 L835.4,208.7 L835.4,206.9 L835.4,205.0 L835.8,203.3 L836.0,201.4 L836.6,199.7 L837.1,197.9 L837.6,196.1 L839.0,194.8 L840.1,193.3 L840.4,191.5 L840.6,189.7 L840.7,187.9 L840.9,186.1 L841.4,184.4 L841.9,182.6 L842.1,180.8 L842.3,179.0 L843.0,177.3 L843.6,175.6 L843.8,173.8 L844.3,172.1 L845.1,170.3 L847.0,169.9 L848.7,170.7 L850.4,171.6 L852.2,171.9 L854.0,171.8 L855.7,171.1 L857.5,170.8 L859.4,170.6 L860.8,169.2 L861.2,167.3 L861.7,165.5 L863.4,164.5 L864.8,164.7 L865.9,165.2 L867.7,165.6 L869.2,166.8 L869.7,168.6 L871.0,170.1 L872.2,171.6 L872.2,173.5 L872.7,175.3 L873.2,177.1 L872.6,179.0 L872.1,180.9 L872.6,182.6 L872.6,184.5 L871.9,186.4 L872.3,188.1 L873.6,189.8 L874.7,191.4 L875.5,193.1 L875.5,194.9 L875.2,196.8 L875.5,198.6 L876.1,200.3 L876.8,202.0 L878.0,203.4 L878.7,205.1 L878.9,207.0 L879.4,208.7 L880.1,210.4 L881.2,211.9 L882.2,213.4 L883.1,215.0 L884.5,216.4 L885.2,218.0 L885.1,220.0 L885.3,221.8 L886.4,223.4 L887.6,224.9 L888.0,226.6 L888.4,228.4 L889.5,230.0 L890.3,231.6 L889.8,233.6 L889.3,235.6 L890.0,237.3 L891.0,238.9 L891.2,240.7 L892.0,242.4 L893.4,243.9 L893.1,245.8 L892.4,247.8 L892.2,249.7 L892.1,251.5 L892.7,253.2 L893.6,254.9 L893.9,256.7 L894.3,258.4 L895.0,260.1 L895.0,262.0 L894.3,263.9 L894.3,265.7 L895.4,267.4 L896.0,269.1 L895.8,270.9 L895.7,272.8 L895.9,274.5 L896.4,276.3 L897.3,278.0 L897.8,279.7 L897.6,281.6 L897.2,283.5 L897.7,285.2 L899.1,286.8 L899.4,288.6 L899.0,290.5 L899.7,292.2 L899.9,294.0 L899.2,295.9 L899.0,297.7 L899.6,299.5 L900.0,301.2 L900.0,303.1 L900.1,304.9 L900.5,306.6 L901.5,308.3 L902.0,310.1 L901.9,311.9 L902.0,313.7 L901.8,315.5 L902.3,317.3 L903.0,319.0 L903.2,320.8 L903.1,322.6 L903.3,324.4 L904.0,326.1 L904.2,327.9 L903.3,329.9 L902.6,331.8 L903.3,333.6 L904.7,335.1 L905.1,336.9 L905.1,338.7 L906.2,340.3 L907.1,342.0 L907.0,343.9 L907.1,345.7 L908.3,347.3 L909.3,349.0 L909.1,350.8 L908.5,352.7 L908.8,354.5 L909.0,356.3 L908.8,358.2 L909.0,359.9 L909.4,361.7 L909.8,363.5 L910.4,365.2 L910.9,367.0 L910.8,368.8 L910.3,370.7 L910.8,372.4 L911.6,374.1 L911.8,375.9 L911.6,377.8 L911.9,379.5 L913.0,381.2 L913.4,383.0 L912.4,384.9 L911.3,386.9 L911.9,388.6 L913.0,390.3 L912.8,392.2 L912.7,394.0 L913.9,395.6 L914.5,397.3 L914.2,399.2 L914.4,401.0 L915.2,402.7 L915.4,404.5 L914.8,406.4 L914.9,408.3 L915.8,409.9 L917.1,411.5 L918.2,413.1 L918.0,415.0 L917.9,416.9 L918.0,418.7 L918.3,420.4 L919.4,422.1 L920.2,423.8 L920.0,425.6 L920.2,427.4 L920.7,429.2 L920.9,430.9 L921.7,432.6 L922.0,434.4 L921.2,436.4 L920.8,438.3 L920.7,440.1 L920.8,441.9 L922.4,443.5 L924.0,445.0 L924.4,446.8 L924.5,448.6 L924.4,450.4 L924.8,452.2 L925.4,453.9 L925.6,455.7 L925.8,457.5 L925.8,459.3 L926.0,461.1 L926.5,462.8 L926.9,464.6 L927.4,466.3 L928.2,468.0 L928.7,469.8 L927.8,471.7 L926.6,473.8 L926.5,475.6 L927.3,477.3 L928.4,478.9 L929.0,480.7 L928.9,482.5 L929.4,484.3 L930.1,486.0 L930.4,487.7 L930.6,489.5 L931.0,491.3 L931.4,493.1 L931.2,494.9 L931.4,496.7 L931.6,498.5" fill="none" stroke="#b8231c" stroke-width="3.4" stroke-linejoin="round" stroke-linecap="round"/>
<path d="M587.0,391.0 L587.3,389.2 L587.7,387.5 L588.5,385.8 L589.2,384.6 L589.9,384.1 L591.5,384.9 L592.4,385.9 L593.8,384.8 L594.8,383.1 L594.1,381.1 L593.3,379.2 L594.0,377.5 L595.3,375.8 L594.9,374.0 L594.2,372.1 L594.5,370.3 L594.8,368.5 L595.1,366.7 L595.5,364.9 L596.2,363.2 L597.5,362.0 L598.9,363.0 L600.2,364.1 L601.7,364.3 L602.1,362.4 L601.7,360.4 L601.9,358.7 L602.4,356.9 L602.6,355.1 L602.9,353.4 L603.6,351.6 L604.1,349.9 L604.2,348.1 L604.6,346.0 L606.5,345.1 L608.3,344.8 L609.3,344.6 L610.1,343.4 L610.8,341.8 L611.9,340.2 L611.9,338.4 L611.3,336.4 L611.7,334.7 L612.2,332.9 L612.8,331.2 L612.9,329.4 L612.7,327.5 L613.6,325.8 L615.1,324.4 L616.4,323.3 L617.8,322.1 L619.1,321.0 L619.7,319.4 L620.0,317.6 L621.0,316.1 L622.2,314.5 L623.2,312.8 L623.9,311.1 L623.8,309.3 L623.7,307.4 L623.7,305.6 L623.3,303.7 L623.9,301.9 L624.5,300.2 L624.4,298.4 L624.4,296.6 L624.8,294.8 L625.1,293.0 L625.0,291.2 L625.2,289.4 L625.6,287.7 L625.6,285.8 L625.8,284.0 L626.1,282.3 L625.7,280.4 L625.4,278.5 L626.3,276.8 L627.5,275.2 L627.6,273.4 L627.2,271.5 L627.6,269.8 L628.3,268.0 L628.1,266.2 L628.4,264.4 L629.1,262.7 L629.0,260.9 L629.3,259.1 L629.8,257.4 L630.0,255.6 L630.6,253.8 L631.2,252.1 L630.5,250.2 L629.7,248.3 L629.8,246.5 L630.7,244.8 L631.4,243.1 L631.7,241.3 L631.7,239.5 L631.6,237.6 L631.8,235.8 L632.3,234.1 L632.8,232.3 L633.1,230.6 L633.9,228.9 L635.0,227.2 L634.4,225.3 L634.1,223.4 L635.3,221.8 L635.4,220.0 L635.1,218.1 L635.9,216.4 L636.0,214.6 L635.8,212.7 L635.8,210.9 L636.3,209.2 L637.3,207.5 L638.1,205.9 L638.2,204.0 L639.0,202.4 L639.5,200.6 L638.9,198.7 L639.0,196.9 L639.3,195.1 L639.0,193.2 L639.4,191.5 L640.4,189.8 L641.0,188.1 L641.1,186.3 L641.6,184.5 L642.4,182.8 L642.8,181.1 L643.2,179.4 L643.5,177.6 L644.1,175.9 L644.9,174.2 L644.9,172.4 L644.8,170.5 L645.0,168.7 L644.8,166.8 L645.4,165.1 L646.6,163.5 L647.5,161.9 L648.0,160.2 L647.5,158.2 L647.6,156.4 L649.3,155.0 L649.6,153.2 L649.4,151.3 L650.2,149.6 L650.1,147.7 L649.6,145.7 L650.2,144.1 L651.4,142.5 L652.3,140.8 L652.1,138.9 L652.1,137.1 L652.7,135.4 L652.9,133.6 L653.6,131.8 L655.2,130.9 L656.1,132.2 L657.5,133.2 L659.4,133.9 L660.4,134.4 L661.3,133.8 L661.8,132.2 L661.9,130.4 L662.8,128.8 L664.6,127.4 L665.0,125.6 L664.7,123.7 L665.9,122.2 L666.3,120.6 L668.1,119.2 L669.7,120.9 L669.9,123.0 L670.3,124.8 L671.2,126.4 L672.1,128.0 L672.2,129.9 L671.6,131.9 L672.1,133.5 L673.9,135.0 L674.2,136.7 L673.7,138.6 L674.9,140.3 L675.7,142.0 L675.4,143.8 L675.1,145.7 L675.1,147.5 L675.9,149.2 L676.7,150.9 L676.6,152.8 L676.1,154.6 L676.1,156.5 L677.3,158.1 L678.7,159.7 L678.5,161.6 L677.9,163.5 L679.0,165.1 L680.3,166.7 L680.1,168.5 L679.5,170.5 L679.6,172.3 L680.5,174.0 L680.5,175.8 L680.8,177.6 L681.9,179.2 L681.9,181.1 L681.2,183.1 L681.4,184.9 L682.4,186.5 L683.2,188.2 L683.7,189.9 L684.6,191.5 L685.6,193.1 L686.2,194.8 L686.5,196.6 L686.0,198.6 L685.7,200.5 L686.6,202.1 L687.1,203.9 L687.5,205.6 L688.4,207.3 L689.4,208.9 L690.7,210.4 L690.7,212.2 L691.1,214.0 L692.8,215.4 L692.9,217.2 L692.3,219.3 L693.1,220.9 L694.2,222.5 L694.6,224.3 L694.6,226.1 L694.4,228.0 L694.8,229.7 L695.8,231.4 L696.4,233.1 L696.2,235.0 L695.8,236.9 L696.2,238.6 L696.9,240.3 L697.8,242.0 L698.7,243.7 L698.6,245.5 L698.0,247.4 L698.4,249.2 L699.5,250.9 L699.8,252.7 L699.4,254.5 L699.3,256.3 L699.6,258.1 L699.6,259.9 L699.4,261.7 L699.2,263.6 L699.1,265.4 L699.0,267.2 L699.2,269.1 L699.9,270.8 L700.9,272.4 L701.2,274.2 L701.4,276.0 L701.9,277.8 L701.8,279.6 L702.1,281.4 L703.6,282.9 L704.2,284.6 L703.6,286.6 L703.6,288.4 L704.4,290.1 L704.9,291.8 L704.4,293.8 L704.7,295.6 L705.8,297.2 L706.4,298.9 L706.7,300.7 L707.1,302.4 L707.8,304.1 L708.0,305.9 L707.6,307.8 L708.0,309.6 L708.6,311.3 L709.5,312.9 L710.4,314.6 L710.1,316.5 L710.1,318.3 L710.5,320.1 L710.9,321.8 L711.2,323.6 L711.3,325.4 L712.0,327.1 L712.9,328.8 L713.0,330.6 L712.6,332.5 L712.7,334.3 L713.9,335.9 L714.4,337.7 L714.2,339.5 L714.5,341.3 L714.6,343.2 L715.2,344.8 L716.3,346.4 L716.6,348.2 L716.4,350.1 L716.7,351.9 L717.3,353.6 L717.2,355.5 L717.5,357.3 L719.2,358.7 L720.8,360.0 L721.7,361.6 L722.2,363.4 L722.5,365.1 L723.1,366.8 L723.6,368.6 L724.2,370.3 L725.7,371.7 L725.6,373.6 L724.4,376.0 L724.7,377.7 L725.9,379.2 L726.3,381.0 L726.5,382.8 L727.4,384.4 L728.9,385.8 L729.9,387.4 L730.4,389.1 L731.0,390.8 L731.7,392.5 L732.1,394.3 L732.3,396.1 L732.5,397.9 L733.0,399.6 L734.1,401.2 L734.0,403.1 L733.6,405.0 L734.2,406.7 L734.5,408.5 L734.6,410.3 L735.1,412.1 L736.3,413.6 L737.6,415.2 L738.0,416.9 L738.5,418.7 L739.2,420.3 L739.6,422.1 L740.2,423.8 L740.5,425.6 L740.1,427.5 L740.4,429.3 L741.3,430.9 L742.1,432.5 L742.5,434.2 L743.1,435.8 L744.1,437.3 L745.2,438.6 L746.5,439.9 L747.7,441.3 L749.0,442.5 L750.7,443.2 L752.6,443.6 L754.2,444.3 L755.7,445.4 L757.3,446.2 L759.3,446.8 L761.5,447.8 L762.3,449.6 L761.6,451.9 L761.3,454.0 L761.7,455.8 L762.8,457.4 L764.4,458.7 L766.2,458.2 L767.5,457.2 L769.0,456.3 L770.2,454.9 L771.4,453.5 L772.5,452.1 L773.5,450.5 L774.1,448.8 L774.0,446.9 L774.1,445.0 L774.4,443.3 L775.5,441.7 L776.5,440.1 L776.8,438.3 L777.4,436.6 L778.0,434.9 L778.2,433.1 L778.2,431.2 L778.0,429.3 L779.1,427.8 L780.1,426.3 L780.1,424.3 L780.6,422.5 L781.8,421.1 L782.9,419.7 L784.1,418.4 L785.5,417.1 L785.7,415.2 L786.1,413.4 L787.8,412.1 L788.7,410.4 L788.7,408.5 L788.8,406.7 L788.7,404.8 L789.3,403.1 L790.3,401.5 L791.0,399.8 L791.3,398.1 L791.2,396.2 L791.2,394.3 L791.9,392.7 L793.3,391.2 L793.8,389.5 L793.5,387.5 L793.9,385.7 L795.1,384.2 L795.8,382.5 L795.5,380.6 L795.1,378.6 L795.4,376.9 L796.2,375.2 L796.4,373.4 L796.7,371.6 L797.8,370.0 L798.4,368.3 L798.1,366.4 L797.8,364.5 L798.7,362.8 L799.2,361.1 L798.8,359.2 L799.4,357.5 L800.0,355.8 L800.0,353.9 L800.4,352.2 L800.8,350.4 L801.5,348.7 L801.7,346.9 L802.1,345.2 L802.9,343.5 L803.1,341.7 L802.7,339.8 L801.8,337.8 L802.1,336.1 L803.4,334.4 L803.8,332.7 L803.8,330.8 L803.7,329.0 L803.5,327.2 L803.6,325.4 L803.9,323.6 L804.3,321.8 L804.5,320.0 L804.6,318.2 L805.7,316.6 L806.3,314.8 L805.6,312.9 L805.8,311.1 L806.6,309.4 L807.1,307.7 L807.7,305.9 L807.7,304.1 L807.5,302.3 L808.2,300.5 L808.9,298.8 L808.9,297.0 L808.6,295.2 L808.2,293.3 L807.5,291.4 L808.2,289.7 L809.8,288.1 L810.2,286.3 L810.1,284.5 L810.1,282.7 L810.0,280.8 L810.2,279.0 L810.7,277.3 L811.3,275.6 L812.0,273.9 L812.9,272.3 L813.8,270.8 L814.4,269.0 L815.1,267.4 L815.7,265.6 L816.2,263.9 L816.3,262.1 L815.4,260.1 L815.5,258.3 L817.0,256.7 L818.4,255.1 L819.1,253.4 L819.0,251.6 L818.6,249.7 L818.4,247.8 L819.2,246.1 L819.5,244.4 L819.0,242.4 L819.2,240.6 L820.2,239.0 L820.3,237.1 L819.9,235.2 L821.1,233.6 L822.4,232.1 L822.7,230.3 L823.3,228.6 L823.5,226.8 L823.5,225.0 L824.1,223.3 L824.2,221.5 L824.3,219.7 L825.4,218.0 L826.0,216.3 L825.0,214.3 L824.4,212.4 L825.6,210.7 L827.3,209.2 L827.4,207.4 L827.0,205.5 L826.9,203.7 L826.7,201.8 L827.0,200.0 L828.2,198.4 L828.5,196.6 L827.9,194.7 L828.2,192.9 L829.1,191.3 L829.9,189.6 L830.8,187.9 L831.7,186.2 L832.3,184.5 L832.6,182.7 L832.3,180.9 L831.6,178.9 L832.0,177.1 L833.3,175.6 L833.5,173.8 L833.0,171.8 L832.3,169.8 L832.9,168.1 L834.6,166.6 L835.3,165.0 L835.3,163.1 L835.1,161.2 L835.3,159.4 L836.7,157.9 L838.2,156.4 L838.7,154.7 L838.4,152.7 L838.0,150.8 L838.5,149.1 L840.0,147.6 L840.7,145.9 L840.2,143.9 L840.3,142.1 L840.7,140.3 L840.1,138.4 L839.8,136.5 L841.1,134.9 L842.0,133.3 L841.7,131.3 L841.3,129.3 L841.9,127.6 L844.0,126.3 L845.3,125.1 L846.2,123.7 L847.8,122.7 L849.8,122.3 L850.9,124.0 L851.7,125.7 L852.3,127.3 L853.0,129.0 L854.6,129.2 L855.5,127.4 L855.3,125.4 L855.7,123.6 L856.1,121.9 L856.2,119.6 L857.6,118.1 L859.6,117.5 L861.1,116.4 L862.9,115.6 L864.9,115.7 L866.6,116.8 L867.5,118.4 L867.9,120.3 L868.1,122.1 L868.8,123.7 L869.6,125.3 L869.8,127.1 L870.1,128.9 L870.7,130.6 L870.8,132.4 L871.2,134.2 L871.9,135.9 L871.7,137.7 L871.6,139.6 L871.9,141.4 L872.2,143.2 L873.3,144.8 L874.3,146.4 L875.0,148.0 L875.9,149.6 L876.7,151.2 L877.0,153.0 L877.5,154.7 L878.0,156.5 L877.8,158.5 L878.6,160.1 L880.1,161.4 L880.5,163.2 L881.0,165.0 L881.5,166.8 L881.7,168.8 L883.0,170.2 L884.6,171.2 L886.3,172.4 L887.5,173.9 L887.6,175.8 L887.9,177.6 L888.3,179.4 L888.1,181.2 L887.7,183.1 L887.4,184.9 L887.8,186.7 L888.6,188.4 L889.4,190.1 L889.5,191.9 L890.0,193.7 L890.4,195.4 L890.1,197.3 L891.0,199.0 L891.6,200.7 L890.3,202.7 L890.2,204.5 L891.9,206.1 L891.8,207.9 L890.8,209.9 L892.3,211.5 L894.1,213.1 L893.5,215.0 L892.3,217.0 L892.6,218.8 L893.0,220.5 L893.2,222.3 L893.9,224.0 L895.3,225.6 L896.0,227.3 L896.0,229.1 L896.3,230.9 L896.0,232.8 L895.4,234.8 L896.1,236.5 L897.1,238.1 L897.4,239.9 L897.4,241.7 L898.0,243.4 L899.2,245.0 L898.9,246.9 L898.3,248.9 L899.1,250.5 L900.5,252.1 L901.5,253.8 L902.2,255.5 L901.6,257.4 L900.7,259.4 L901.4,261.1 L902.5,262.7 L902.7,264.5 L902.7,266.3 L902.9,268.1 L903.4,269.9 L903.6,271.7 L903.0,273.6 L902.9,275.4 L904.1,277.1 L904.5,278.8 L904.5,280.6 L905.5,282.3 L905.9,284.1 L905.7,285.9 L905.7,287.7 L906.2,289.5 L906.6,291.3 L906.7,293.0 L907.6,294.7 L908.6,296.4 L908.4,298.3 L907.9,300.2 L908.1,301.9 L907.8,303.8 L907.3,305.7 L907.6,307.5 L908.5,309.2 L909.0,310.9 L909.2,312.7 L909.8,314.4 L909.9,316.2 L909.5,318.1 L909.5,319.9 L909.2,321.8 L909.7,323.5 L910.5,325.2 L910.3,327.1 L910.6,328.8 L911.9,330.5 L912.7,332.2 L912.5,334.0 L912.0,335.9 L911.9,337.8 L912.5,339.5 L913.2,341.2 L913.1,343.0 L912.3,345.0 L912.4,346.8 L913.6,348.4 L914.3,350.1 L914.0,352.0 L913.9,353.8 L913.9,355.7 L913.6,357.5 L914.4,359.2 L915.8,360.8 L915.9,362.6 L915.2,364.6 L915.3,366.4 L915.7,368.1 L916.5,369.8 L917.2,371.6 L916.6,373.4 L916.1,375.3 L917.1,377.0 L918.2,378.7 L918.5,380.5 L918.4,382.3 L918.1,384.1 L917.4,386.1 L917.4,387.9 L918.5,389.5 L919.4,391.2 L919.6,393.0 L919.8,394.8 L920.2,396.6 L920.3,398.4 L920.7,400.1 L921.1,401.9 L921.0,403.7 L921.4,405.5 L921.9,407.2 L921.7,409.1 L921.5,410.9 L921.2,412.8 L921.6,414.6 L922.7,416.2 L923.4,417.9 L923.4,419.8 L923.3,421.6 L923.7,423.4 L924.4,425.1 L925.2,426.7 L924.9,428.6 L924.3,430.5 L924.8,432.3 L925.2,434.1 L925.6,435.8 L926.6,437.5 L927.2,439.2 L926.7,441.1 L926.3,443.0 L926.9,444.7 L927.5,446.4 L927.7,448.2 L928.2,450.0 L929.8,451.6 L930.9,453.2 L930.7,455.1 L930.5,456.9 L930.5,458.7 L930.8,460.5 L930.7,462.3 L930.2,464.2 L930.3,466.0 L930.3,467.9 L930.2,469.7 L931.1,471.4 L931.4,473.1 L931.4,475.0 L932.0,476.7 L932.2,478.5 L932.5,480.3" fill="none" stroke="#2f6cb8" stroke-width="3.4" stroke-linejoin="round" stroke-linecap="round"/>
<path d="M586.4,499 L586.4,503.4 L932.5,503.4" fill="none" stroke="#fdebdf" stroke-width="1"/>
<rect x="587.0" y="43.0" width="345.5" height="455.7" fill="none" stroke="#000" stroke-width="1.5"/>
<line x1="579.0" y1="58.8" x2="587.0" y2="58.8" stroke="#000" stroke-width="1.5" />
<text x="574.0" y="68.1" font-family="'Liberation Sans', Arial, sans-serif" font-size="26.5" text-anchor="end" fill="#000" >12</text>
<line x1="583.0" y1="218.6" x2="587.0" y2="218.6" stroke="#000" stroke-width="1.5" />
<line x1="579.0" y1="378.6" x2="587.0" y2="378.6" stroke="#000" stroke-width="1.5" />
<text x="574.0" y="387.9" font-family="'Liberation Sans', Arial, sans-serif" font-size="26.5" text-anchor="end" fill="#000" >8</text>
<line x1="633.4" y1="498.7" x2="633.4" y2="506.7" stroke="#000" stroke-width="1.5" />
<text x="633.4" y="535.0" font-family="'Liberation Sans', Arial, sans-serif" font-size="26.5" text-anchor="middle" fill="#000" >1.67</text>
<line x1="765.4" y1="498.7" x2="765.4" y2="502.7" stroke="#000" stroke-width="1.5" />
<line x1="897.5" y1="498.7" x2="897.5" y2="506.7" stroke="#000" stroke-width="1.5" />
<text x="897.5" y="535.0" font-family="'Liberation Sans', Arial, sans-serif" font-size="26.5" text-anchor="middle" fill="#000" >1.70</text>
<text x="758.5" y="580.0" font-family="'Liberation Sans', Arial, sans-serif" font-size="31.3" text-anchor="middle" fill="#000" >E (eV)</text>
<text transform="translate(531.6,271.5) rotate(-90)" font-family="'Liberation Sans', Arial, sans-serif" font-size="33" text-anchor="middle">PL (a.u.)</text>
<text x="603.3" y="132.5" font-family="'Liberation Serif', 'Times New Roman', serif" font-size="36" font-style="italic" stroke="#000" stroke-width="0.5">X</text>
<text x="627" y="124.2" font-family="'Liberation Serif', 'Times New Roman', serif" font-size="34">+</text>
<text x="771.9" y="132.5" font-family="'Liberation Serif', 'Times New Roman', serif" font-size="36" font-style="italic" stroke="#000" stroke-width="0.5">X</text>
<text x="792" y="139.4" font-family="'Liberation Serif', 'Times New Roman', serif" font-size="24.5">0</text>
<text x="837.7" y="89" font-family="'DejaVu Serif', serif" font-size="35" font-style="italic" fill="#2f6cb8">σ</text>
<text x="861.9" y="84.2" font-family="'Liberation Sans', Arial, sans-serif" font-size="23" fill="#2f6cb8" stroke="#2f6cb8" stroke-width="0.5">−</text>
<text x="831" y="251" font-family="'DejaVu Serif', serif" font-size="35" font-style="italic" fill="#b8231c">σ</text>
<text x="857.2" y="241.7" font-family="'Liberation Serif', 'Times New Roman', serif" font-size="39" fill="#b8231c">+</text>
<path d="M1129.0,488.0 L1130.3,485.4 L1132.0,482.0 L1134.1,477.9 L1136.4,473.4 L1138.7,468.6 L1141.0,463.8 L1143.2,459.2 L1145.0,455.0 L1146.6,451.1 L1148.0,447.2 L1149.3,443.3 L1150.6,439.5 L1151.8,435.7 L1152.9,432.0 L1154.0,428.5 L1155.0,425.0 L1156.0,421.7 L1156.8,418.5 L1157.6,415.5 L1158.4,412.5 L1159.1,409.6 L1159.9,406.7 L1160.7,403.7 L1161.6,400.6 L1162.6,397.4 L1163.6,394.1 L1164.6,390.7 L1165.6,387.4 L1166.7,384.1 L1167.8,380.9 L1168.9,377.8 L1170.0,375.0 L1171.1,372.4 L1172.1,369.9 L1173.1,367.6 L1174.1,365.4 L1175.2,363.3 L1176.4,361.2 L1177.6,359.2 L1179.0,357.2 L1180.6,355.2 L1182.4,353.1 L1184.3,351.1 L1186.3,349.1 L1188.3,347.3 L1190.2,345.5 L1191.9,344.0 L1193.4,342.7 L1194.6,341.6 L1195.7,340.8 L1196.5,340.1 L1197.3,339.5 L1198.1,339.1 L1198.8,338.7 L1199.7,338.5 L1200.7,338.3 L1201.8,338.3 L1203.1,338.4 L1204.3,338.8 L1205.7,339.1 L1207.0,339.5 L1208.3,339.8 L1209.6,339.9 L1210.8,339.8 L1211.9,339.5 L1212.9,339.2 L1213.8,338.8 L1214.7,338.3 L1215.7,337.6 L1216.7,336.6 L1218.0,335.5 L1219.5,334.0 L1221.3,332.1 L1223.2,329.8 L1225.4,327.2 L1227.7,324.4 L1230.0,321.5 L1232.3,318.7 L1234.7,316.1 L1236.9,313.7 L1239.1,311.6 L1241.3,309.6 L1243.4,307.7 L1245.6,305.9 L1247.8,304.2 L1250.0,302.5 L1252.1,300.8 L1254.3,299.2 L1256.5,297.6 L1258.8,296.1 L1261.2,294.6 L1263.5,293.2 L1265.8,291.8 L1267.9,290.4 L1269.9,289.0 L1271.6,287.6 L1273.0,286.2 L1274.2,284.8 L1275.2,283.5 L1276.1,282.1 L1277.0,280.7 L1277.8,279.3 L1278.8,277.8 L1280.0,276.3 L1281.3,274.9 L1282.7,273.6 L1284.1,272.3 L1285.5,271.0 L1287.1,269.5 L1288.7,267.6 L1290.4,265.3 L1292.3,262.5 L1294.3,258.9 L1296.5,254.5 L1298.9,249.6 L1301.3,244.4 L1303.8,239.2 L1306.2,234.1 L1308.5,229.6 L1310.7,225.7 L1312.8,222.7 L1314.9,220.5 L1316.9,218.7 L1318.8,217.1 L1320.7,215.4 L1322.6,213.4 L1324.3,210.8 L1326.0,207.3 L1327.6,202.8 L1329.0,197.7 L1330.4,191.9 L1331.7,185.8 L1332.9,179.5 L1334.2,173.2 L1335.4,167.1 L1336.7,161.3 L1338.0,155.2 L1339.4,148.3 L1340.7,141.2 L1342.1,134.3 L1343.4,128.1 L1344.6,123.0 L1345.8,119.6 L1346.9,118.4 L1347.9,119.4 L1348.8,122.3 L1349.6,126.7 L1350.4,132.4 L1351.2,139.0 L1351.9,146.2 L1352.7,153.7 L1353.6,161.3 L1354.5,169.6 L1355.5,179.4 L1356.4,190.0 L1357.4,201.0 L1358.4,211.8 L1359.4,221.9 L1360.3,230.8 L1361.3,238.0 L1362.2,243.7 L1363.0,248.4 L1363.8,252.3 L1364.6,255.3 L1365.5,257.5 L1366.5,258.9 L1367.6,259.5 L1368.9,259.5 L1370.5,258.3 L1372.3,255.8 L1374.4,252.2 L1376.5,248.0 L1378.6,243.5 L1380.7,239.1 L1382.6,235.1 L1384.3,231.9 L1385.8,229.4 L1387.1,227.2 L1388.3,225.3 L1389.5,223.5 L1390.5,221.8 L1391.6,220.2 L1392.5,218.4 L1393.5,216.5 L1394.4,214.2 L1395.1,211.5 L1395.7,208.6 L1396.4,205.7 L1397.0,203.1 L1397.7,201.1 L1398.6,199.9 L1399.6,199.7 L1400.8,200.5 L1402.2,202.1 L1403.6,204.3 L1405.2,207.2 L1406.8,210.5 L1408.5,214.3 L1410.2,218.4 L1411.9,222.7 L1413.7,227.7 L1415.7,233.7 L1417.8,240.3 L1419.9,247.2 L1422.0,253.9 L1424.0,260.2 L1425.7,265.7 L1427.2,270.0 L1428.4,273.0 L1429.4,275.2 L1430.2,276.6 L1430.8,277.4 L1431.4,278.0 L1432.0,278.5 L1432.6,279.1 L1433.3,280.0 L1434.1,281.1 L1435.0,282.1 L1435.8,283.1 L1436.7,284.1 L1437.5,285.1 L1438.3,286.1 L1438.9,287.2 L1439.5,288.4 L1439.9,289.8 L1440.2,291.3 L1440.5,293.0 L1440.6,294.7 L1440.8,296.4 L1440.8,297.8 L1440.9,299.1 L1441.0,300.0 L1441.0,423.3 L1438.7,421.1 L1435.4,418.2 L1431.6,414.6 L1427.4,410.7 L1423.1,406.7 L1418.9,402.7 L1415.1,399.0 L1411.9,395.7 L1409.4,392.6 L1407.4,389.4 L1405.7,386.2 L1404.1,383.2 L1402.6,380.5 L1400.9,378.2 L1398.9,376.6 L1396.5,375.8 L1393.5,376.1 L1390.0,377.5 L1386.2,379.7 L1382.2,382.2 L1378.3,384.9 L1374.7,387.2 L1371.5,388.9 L1368.9,389.6 L1367.0,389.5 L1365.6,388.9 L1364.6,388.0 L1363.9,386.6 L1363.3,384.9 L1362.7,382.7 L1362.1,380.2 L1361.3,377.3 L1360.3,373.8 L1359.4,369.4 L1358.4,364.6 L1357.5,359.4 L1356.5,354.1 L1355.5,349.1 L1354.6,344.5 L1353.6,340.5 L1352.6,336.9 L1351.7,333.4 L1350.7,330.1 L1349.7,327.0 L1348.8,324.4 L1347.8,322.4 L1346.9,321.1 L1345.9,320.6 L1345.0,321.2 L1344.1,322.9 L1343.2,325.4 L1342.4,328.4 L1341.5,331.7 L1340.5,335.0 L1339.5,338.0 L1338.3,340.5 L1337.1,342.5 L1335.8,344.4 L1334.4,346.3 L1333.0,348.0 L1331.5,349.6 L1329.8,351.2 L1328.0,352.8 L1326.0,354.3 L1323.8,355.8 L1321.3,357.2 L1318.7,358.5 L1316.0,359.8 L1313.2,361.1 L1310.3,362.4 L1307.4,363.7 L1304.5,365.1 L1301.5,366.6 L1298.3,368.3 L1295.1,370.0 L1291.8,371.7 L1288.6,373.3 L1285.5,374.9 L1282.6,376.2 L1280.0,377.3 L1277.8,378.1 L1276.1,378.5 L1274.6,378.7 L1273.2,378.8 L1271.7,378.9 L1270.1,379.2 L1268.2,379.6 L1265.8,380.3 L1262.9,381.4 L1259.6,382.7 L1256.0,384.1 L1252.3,385.7 L1248.4,387.4 L1244.5,389.0 L1240.6,390.5 L1236.9,391.9 L1233.2,393.1 L1229.5,394.3 L1225.7,395.5 L1221.9,396.6 L1218.2,397.7 L1214.6,398.7 L1211.2,399.7 L1207.9,400.6 L1204.8,401.4 L1201.7,402.1 L1198.8,402.8 L1196.0,403.4 L1193.3,404.0 L1190.8,404.7 L1188.5,405.6 L1186.4,406.6 L1184.6,407.8 L1183.1,409.0 L1181.8,410.4 L1180.7,411.8 L1179.6,413.4 L1178.6,415.1 L1177.4,416.9 L1176.2,418.9 L1174.9,421.1 L1173.6,423.3 L1172.2,425.8 L1170.9,428.3 L1169.5,431.0 L1168.1,433.9 L1166.6,436.9 L1165.0,440.0 L1163.3,443.4 L1161.5,447.2 L1159.7,451.1 L1157.7,455.2 L1155.8,459.2 L1153.8,463.1 L1151.9,466.8 L1150.0,470.0 L1148.1,472.9 L1146.0,475.7 L1144.0,478.3 L1141.9,480.7 L1140.0,482.9 L1138.1,484.8 L1136.4,486.5 L1135.0,488.0 L1133.8,489.1 L1132.7,489.9 L1131.8,490.4 L1131.1,490.6 L1130.4,490.8 L1129.9,490.8 L1129.4,490.9 L1129.0,491.0 Z" fill="#f9e6e6" stroke="none"/>
<circle cx="1129.1" cy="491.6" r="5.4" fill="#f7b9bc" stroke="#f2a5a8" stroke-width="1.7"/>
<circle cx="1146.5" cy="480.9" r="5.2" fill="#f08080" stroke="#c8000f" stroke-width="1.7"/>
<circle cx="1146.5" cy="465.9" r="5.2" fill="#f08080" stroke="#c8000f" stroke-width="1.7"/>
<circle cx="1143.8" cy="461.8" r="5.2" fill="#f08080" stroke="#c8000f" stroke-width="1.7"/>
<circle cx="1152.6" cy="452.2" r="5.2" fill="#f08080" stroke="#c8000f" stroke-width="1.7"/>
<circle cx="1151.6" cy="443.4" r="5.2" fill="#f08080" stroke="#c8000f" stroke-width="1.7"/>
<circle cx="1161.8" cy="411.1" r="5.2" fill="#f08080" stroke="#c8000f" stroke-width="1.7"/>
<circle cx="1176.2" cy="391.3" r="5.2" fill="#f08080" stroke="#c8000f" stroke-width="1.7"/>
<circle cx="1197.2" cy="361.5" r="5.2" fill="#f08080" stroke="#c8000f" stroke-width="1.7"/>
<circle cx="1213.1" cy="377.4" r="5.2" fill="#f08080" stroke="#c8000f" stroke-width="1.7"/>
<circle cx="1228.8" cy="353.7" r="5.2" fill="#f08080" stroke="#c8000f" stroke-width="1.7"/>
<circle cx="1258.0" cy="336.0" r="5.2" fill="#f08080" stroke="#c8000f" stroke-width="1.7"/>
<circle cx="1289.0" cy="325.5" r="5.2" fill="#f08080" stroke="#c8000f" stroke-width="1.7"/>
<circle cx="1310.7" cy="284.4" r="5.2" fill="#f08080" stroke="#c8000f" stroke-width="1.7"/>
<circle cx="1330.6" cy="284.4" r="5.2" fill="#f08080" stroke="#c8000f" stroke-width="1.7"/>
<circle cx="1345.5" cy="204.3" r="5.2" fill="#f08080" stroke="#c8000f" stroke-width="1.7"/>
<circle cx="1349.5" cy="229.9" r="5.2" fill="#f08080" stroke="#c8000f" stroke-width="1.7"/>
<circle cx="1362.8" cy="338.1" r="5.2" fill="#f08080" stroke="#c8000f" stroke-width="1.7"/>
<circle cx="1375.1" cy="315.1" r="5.2" fill="#f08080" stroke="#c8000f" stroke-width="1.7"/>
<circle cx="1395.6" cy="284.4" r="5.2" fill="#f08080" stroke="#c8000f" stroke-width="1.7"/>
<circle cx="1401.1" cy="286.0" r="5.2" fill="#f08080" stroke="#c8000f" stroke-width="1.7"/>
<circle cx="1395.0" cy="299.1" r="5.2" fill="#f08080" stroke="#c8000f" stroke-width="1.7"/>
<circle cx="1425.7" cy="332.6" r="5.2" fill="#f08080" stroke="#c8000f" stroke-width="1.7"/>
<circle cx="1440.1" cy="359.8" r="5.2" fill="#f08080" stroke="#c8000f" stroke-width="1.7"/>
<path d="M1145.0,466.3 L1147.0,462.5 L1149.0,458.8 L1151.0,455.1 L1152.9,451.5 L1154.9,447.9 L1156.9,444.3 L1158.9,440.8 L1160.9,437.3 L1162.9,433.8 L1164.9,430.4 L1166.9,427.0 L1168.8,423.6 L1170.8,420.3 L1172.8,417.0 L1174.8,413.8 L1176.8,410.6 L1178.8,407.4 L1180.8,404.3 L1182.7,401.3 L1184.7,398.2 L1186.7,395.2 L1188.7,392.3 L1190.7,389.4 L1192.7,386.5 L1194.7,383.7 L1196.7,380.9 L1198.6,378.2 L1200.6,375.5 L1202.6,372.8 L1204.6,370.2 L1206.6,367.7 L1208.6,365.2 L1210.6,362.7 L1212.5,360.3 L1214.5,357.9 L1216.5,355.5 L1218.5,353.2 L1220.5,351.0 L1222.5,348.8 L1224.5,346.6 L1226.4,344.5 L1228.4,342.5 L1230.4,340.4 L1232.4,338.5 L1234.4,336.5 L1236.4,334.7 L1238.4,332.8 L1240.4,331.0 L1242.3,329.3 L1244.3,327.6 L1246.3,325.9 L1248.3,324.3 L1250.3,322.7 L1252.3,321.2 L1254.3,319.7 L1256.2,318.3 L1258.2,316.9 L1260.2,315.5 L1262.2,314.2 L1264.2,312.9 L1266.2,311.7 L1268.2,310.5 L1270.2,309.4 L1272.1,308.3 L1274.1,307.3 L1276.1,306.3 L1278.1,305.3 L1280.1,304.4 L1282.1,303.5 L1284.1,302.6 L1286.0,301.8 L1288.0,301.1 L1290.0,300.3 L1292.0,299.7 L1294.0,299.0 L1296.0,298.4 L1298.0,297.8 L1300.0,297.3 L1301.9,296.8 L1303.9,296.3 L1305.9,295.9 L1307.9,295.5 L1309.9,295.1 L1311.9,294.8 L1313.9,294.5 L1315.8,294.3 L1317.8,294.0 L1319.8,293.8 L1321.8,293.7 L1323.8,293.5 L1325.8,293.4 L1327.8,293.4 L1329.8,293.3 L1331.7,293.3 L1333.7,293.3 L1335.7,293.3 L1337.7,293.4 L1339.7,293.5 L1341.7,293.6 L1343.7,293.7 L1345.6,293.9 L1347.6,294.0 L1349.6,294.2 L1351.6,294.4 L1353.6,294.7 L1355.6,294.9 L1357.6,295.2 L1359.6,295.5 L1361.5,295.8 L1363.5,296.1 L1365.5,296.4 L1367.5,296.8 L1369.5,297.1 L1371.5,297.5 L1373.5,297.9 L1375.4,298.3 L1377.4,298.7 L1379.4,299.0 L1381.4,299.5 L1383.4,299.9 L1385.4,300.3 L1387.4,300.7 L1389.3,301.1 L1391.3,301.5 L1393.3,301.9 L1395.3,302.4 L1397.3,302.8 L1399.3,303.2 L1401.3,303.6 L1403.3,304.0 L1405.2,304.4 L1407.2,304.7 L1409.2,305.1 L1411.2,305.5 L1413.2,305.8 L1415.2,306.1 L1417.2,306.4 L1419.1,306.7 L1421.1,307.0 L1423.1,307.3 L1425.1,307.5 L1427.1,307.7 L1429.1,307.9 L1431.1,308.1 L1433.1,308.2 L1435.0,308.4 L1437.0,308.4 L1439.0,308.5 L1441.0,308.5" fill="none" stroke="#ff0000" stroke-width="3.6" stroke-linecap="round"/>
<rect x="1120.4" y="73.0" width="333.2" height="425.5" fill="none" stroke="#000" stroke-width="1.5"/>
<line x1="1113.4" y1="92.8" x2="1120.4" y2="92.8" stroke="#000" stroke-width="1.5" />
<text x="1110.9" y="105.8" font-family="'Liberation Sans', Arial, sans-serif" font-size="26.5" text-anchor="end" fill="#000" >100</text>
<line x1="1116.9" y1="290.6" x2="1120.4" y2="290.6" stroke="#000" stroke-width="1.5" />
<line x1="1113.4" y1="488.5" x2="1120.4" y2="488.5" stroke="#000" stroke-width="1.5" />
<text x="1110.9" y="501.5" font-family="'Liberation Sans', Arial, sans-serif" font-size="26.5" text-anchor="end" fill="#000" >0</text>
<line x1="1129.9" y1="498.5" x2="1129.9" y2="505.5" stroke="#000" stroke-width="1.5" />
<text x="1129.9" y="532.6" font-family="'Liberation Sans', Arial, sans-serif" font-size="26.5" text-anchor="middle" fill="#000" >0</text>
<line x1="1261.0" y1="498.5" x2="1261.0" y2="502.0" stroke="#000" stroke-width="1.5" />
<line x1="1392.0" y1="498.5" x2="1392.0" y2="505.5" stroke="#000" stroke-width="1.5" />
<text x="1392.0" y="532.6" font-family="'Liberation Sans', Arial, sans-serif" font-size="26.5" text-anchor="middle" fill="#000" >1.2</text>
<line x1="1130.1" y1="66.0" x2="1130.1" y2="73.0" stroke="#000" stroke-width="1.5" />
<text x="1130.1" y="56.4" font-family="'Liberation Sans', Arial, sans-serif" font-size="26.5" text-anchor="middle" fill="#000" >0</text>
<line x1="1279.5" y1="69.5" x2="1279.5" y2="73.0" stroke="#000" stroke-width="1.5" />
<line x1="1429.0" y1="66.0" x2="1429.0" y2="73.0" stroke="#000" stroke-width="1.5" />
<text x="1429.0" y="56.4" font-family="'Liberation Sans', Arial, sans-serif" font-size="26.5" text-anchor="middle" fill="#000" >12</text>
<text x="1241.3" y="46.1" font-family="'Liberation Serif', 'Times New Roman', serif" font-size="34.5">Ω</text>
<text x="1275.5" y="46.1" font-family="'Liberation Sans', Arial, sans-serif" font-size="31.5">(T)</text>
<text x="1210.3" y="577.9" font-family="'Liberation Sans', Arial, sans-serif" font-size="29.6">2</text>
<text x="1227.6" y="577.9" font-family="'Liberation Sans', Arial, sans-serif" font-size="31.0">µ</text>
<text x="1245.5" y="586.4" font-family="'Liberation Sans', Arial, sans-serif" font-size="22.2">B</text>
<text x="1260.4" y="577.9" font-family="'Liberation Serif', 'Times New Roman', serif" font-size="37.0">Ω</text>
<text x="1296.4" y="577.9" font-family="'Liberation Sans', Arial, sans-serif" font-size="30.5">(meV)</text>
<g transform="translate(1052.2,339.5) rotate(-90)"><text x="0" y="0" font-family="'Liberation Sans', Arial, sans-serif" font-size="31.3">S</text><text x="16.4" y="-13.5" font-family="'Liberation Sans', Arial, sans-serif" font-size="22">*</text><text x="17.5" y="3.6" font-family="'Liberation Sans', Arial, sans-serif" font-size="20.7">z</text><text x="36.2" y="0" font-family="'Liberation Sans', Arial, sans-serif" font-size="31.3">(%)</text></g>
<text x="1204.5" y="434.5" font-family="'DejaVu Serif', serif" font-stretch="condensed" font-size="24.7" font-style="italic" stroke="#000" stroke-width="0.35">T</text>
<text x="1218.3" y="439.7" font-family="'DejaVu Serif', serif" font-size="18" font-style="italic" letter-spacing="1.3" stroke="#000" stroke-width="0.3">coh</text>
<text x="1259.1" y="436.5" font-family="'DejaVu Sans', sans-serif" font-size="26">=</text>
<text x="1281.696" y="434.5" font-family="'Liberation Sans', Arial, sans-serif" font-size="26.3">1.0</text>
<text x="1317.1" y="434.5" font-family="'DejaVu Sans', sans-serif" font-size="26">±</text>
<text x="1337.3480000000002" y="434.5" font-family="'Liberation Sans', Arial, sans-serif" font-size="26.3">0.2</text>
<text x="1382.659" y="434.5" font-family="'Liberation Sans', Arial, sans-serif" font-size="26.3">ps</text>
<path d="M1674.0,488.0 L1675.2,482.8 L1676.9,475.8 L1678.9,467.6 L1681.1,458.4 L1683.4,448.6 L1685.7,438.7 L1687.9,429.1 L1690.0,420.0 L1692.0,411.3 L1693.9,402.4 L1695.9,393.5 L1697.8,384.5 L1699.7,375.6 L1701.6,366.8 L1703.3,358.3 L1705.0,350.0 L1706.6,342.2 L1708.0,335.0 L1709.4,328.1 L1710.7,321.2 L1712.0,314.3 L1713.3,306.9 L1714.6,298.9 L1716.0,290.0 L1717.4,279.9 L1718.9,268.5 L1720.3,256.4 L1721.8,244.0 L1723.3,231.7 L1724.7,220.0 L1726.2,209.3 L1727.7,200.0 L1729.2,192.2 L1730.7,185.5 L1732.3,179.6 L1733.8,174.4 L1735.4,169.6 L1736.9,164.9 L1738.3,160.3 L1739.7,155.5 L1741.0,150.6 L1742.2,145.9 L1743.4,141.4 L1744.6,137.1 L1745.7,132.7 L1746.9,128.4 L1748.0,124.1 L1749.2,119.7 L1750.4,115.1 L1751.7,110.2 L1753.0,105.3 L1754.2,100.4 L1755.5,95.6 L1756.7,91.2 L1757.8,87.3 L1758.8,83.9 L1759.7,81.1 L1760.5,78.8 L1761.3,77.0 L1762.0,75.4 L1762.7,74.1 L1763.3,73.0 L1763.9,72.0 L1764.5,71.0 L1765.1,70.1 L1765.6,69.3 L1766.1,68.7 L1766.5,68.2 L1767.0,67.9 L1767.4,67.6 L1767.8,67.5 L1768.3,67.5 L1768.8,67.6 L1769.2,67.9 L1769.7,68.3 L1770.2,68.8 L1770.6,69.4 L1771.1,70.1 L1771.5,70.8 L1772.0,71.5 L1772.4,72.2 L1772.7,73.0 L1773.1,73.8 L1773.4,74.7 L1773.8,75.6 L1774.2,76.6 L1774.8,77.8 L1775.5,79.1 L1776.3,80.6 L1777.2,82.4 L1778.2,84.3 L1779.3,86.3 L1780.5,88.3 L1781.8,90.2 L1783.3,91.9 L1785.0,93.4 L1787.0,94.6 L1789.2,95.5 L1791.7,96.3 L1794.3,97.0 L1796.9,97.7 L1799.4,98.5 L1801.9,99.4 L1804.1,100.6 L1806.2,102.0 L1808.2,103.5 L1810.2,105.1 L1812.1,106.9 L1813.9,108.7 L1815.6,110.7 L1817.1,112.7 L1818.4,114.9 L1819.5,117.3 L1820.4,119.8 L1821.1,122.5 L1821.6,125.4 L1822.1,128.2 L1822.5,131.0 L1822.8,133.8 L1823.2,136.4 L1823.5,138.9 L1823.8,141.3 L1824.0,143.7 L1824.2,146.1 L1824.3,148.4 L1824.4,150.8 L1824.4,153.1 L1824.4,155.5 L1824.5,158.1 L1824.7,161.2 L1824.9,164.3 L1825.1,167.4 L1825.1,170.2 L1824.8,172.5 L1824.2,174.0 L1823.2,174.6 L1821.6,174.0 L1819.6,172.3 L1817.2,169.9 L1814.6,167.0 L1811.8,163.8 L1809.0,160.7 L1806.4,157.8 L1804.0,155.5 L1801.8,153.5 L1799.7,151.5 L1797.6,149.5 L1795.5,147.7 L1793.5,146.1 L1791.5,144.8 L1789.5,143.9 L1787.4,143.5 L1785.3,143.6 L1783.1,144.1 L1780.9,145.1 L1778.8,146.3 L1776.6,147.8 L1774.5,149.4 L1772.6,151.2 L1770.7,153.0 L1769.0,154.9 L1767.3,156.9 L1765.8,159.1 L1764.3,161.5 L1762.9,163.9 L1761.5,166.6 L1760.1,169.3 L1758.8,172.2 L1757.5,175.1 L1756.3,178.0 L1755.1,181.0 L1754.0,184.2 L1752.8,187.6 L1751.7,191.3 L1750.5,195.4 L1749.2,200.0 L1747.9,205.1 L1746.6,210.7 L1745.2,216.7 L1743.8,223.0 L1742.4,229.5 L1741.0,236.3 L1739.5,243.1 L1738.0,250.0 L1736.5,257.0 L1734.9,264.3 L1733.3,271.8 L1731.6,279.4 L1730.0,287.1 L1728.3,294.8 L1726.6,302.4 L1725.0,310.0 L1723.4,317.5 L1721.8,325.0 L1720.2,332.5 L1718.6,340.0 L1716.9,347.5 L1715.3,355.0 L1713.7,362.5 L1712.0,370.0 L1710.3,377.5 L1708.6,385.1 L1706.9,392.7 L1705.2,400.2 L1703.4,407.8 L1701.7,415.3 L1699.9,422.7 L1698.0,430.0 L1696.0,437.6 L1693.8,445.6 L1691.4,453.8 L1689.1,461.8 L1686.9,469.3 L1684.9,476.0 L1683.2,481.7 L1682.0,486.0 Z" fill="#fef7f0" stroke="none"/>
<path d="M1676.0,488.0 L1677.9,483.5 L1680.5,477.4 L1683.6,470.1 L1687.1,462.1 L1690.6,453.7 L1694.1,445.3 L1697.3,437.3 L1700.0,430.0 L1702.3,423.4 L1704.4,416.9 L1706.3,410.7 L1708.1,404.5 L1709.8,398.4 L1711.5,392.3 L1713.2,386.2 L1715.0,380.0 L1716.9,373.7 L1718.8,367.3 L1720.6,360.8 L1722.5,354.4 L1724.4,348.0 L1726.2,341.8 L1728.1,335.8 L1730.0,330.0 L1731.9,324.5 L1733.8,319.3 L1735.7,314.3 L1737.6,309.4 L1739.5,304.6 L1741.4,299.8 L1743.2,294.9 L1745.0,290.0 L1746.7,285.1 L1748.5,280.2 L1750.2,275.4 L1751.8,270.6 L1753.4,265.7 L1755.0,260.7 L1756.5,255.5 L1758.0,250.0 L1759.4,244.1 L1760.8,237.6 L1762.1,230.8 L1763.3,224.0 L1764.5,217.3 L1765.7,210.9 L1766.9,205.1 L1768.0,200.0 L1769.1,195.7 L1770.1,191.8 L1771.1,188.4 L1772.0,185.4 L1772.9,182.8 L1773.9,180.3 L1774.9,178.1 L1776.0,176.0 L1777.1,174.1 L1778.3,172.4 L1779.5,170.9 L1780.8,169.7 L1782.0,168.7 L1783.3,167.9 L1784.6,167.4 L1786.0,167.0 L1787.3,167.0 L1788.6,167.3 L1789.9,167.9 L1791.2,168.7 L1792.7,169.6 L1794.2,170.5 L1796.0,171.3 L1798.0,172.0 L1800.2,172.5 L1802.6,173.1 L1805.2,173.6 L1807.9,174.1 L1810.7,174.5 L1813.7,175.0 L1816.8,175.5 L1820.0,176.0 L1823.4,176.5 L1826.9,177.0 L1830.7,177.5 L1834.5,178.1 L1838.4,178.6 L1842.3,179.1 L1846.2,179.5 L1850.0,180.0 L1853.8,180.4 L1857.5,180.8 L1861.2,181.2 L1865.0,181.6 L1868.8,181.9 L1872.5,182.3 L1876.2,182.6 L1880.0,183.0 L1883.8,183.3 L1887.5,183.7 L1891.2,183.9 L1895.0,184.2 L1898.8,184.6 L1902.5,185.0 L1906.2,185.4 L1910.0,186.0 L1913.8,186.7 L1917.5,187.5 L1921.2,188.3 L1925.0,189.2 L1928.8,190.2 L1932.5,191.2 L1936.2,192.1 L1940.0,193.0 L1943.8,193.9 L1947.7,194.7 L1951.6,195.6 L1955.5,196.4 L1959.3,197.3 L1963.1,198.2 L1966.6,199.1 L1970.0,200.0 L1973.3,200.8 L1976.6,201.2 L1979.8,201.7 L1982.9,202.1 L1985.7,202.8 L1988.2,203.9 L1990.4,205.6 L1992.0,208.0 L1993.2,211.5 L1994.1,216.1 L1994.6,221.5 L1994.8,227.1 L1994.6,232.7 L1994.1,237.8 L1993.2,242.0 L1992.0,245.0 L1990.4,246.6 L1988.2,247.3 L1985.7,247.2 L1982.9,246.6 L1979.8,245.7 L1976.6,244.6 L1973.3,243.7 L1970.0,243.0 L1966.6,242.5 L1963.1,242.0 L1959.3,241.4 L1955.5,240.8 L1951.6,240.1 L1947.7,239.4 L1943.8,238.7 L1940.0,238.0 L1936.2,237.2 L1932.5,236.4 L1928.8,235.5 L1925.0,234.6 L1921.2,233.7 L1917.5,233.0 L1913.8,232.4 L1910.0,232.0 L1906.2,231.9 L1902.3,231.9 L1898.3,232.2 L1894.4,232.5 L1890.5,232.9 L1886.8,233.3 L1883.3,233.7 L1880.0,234.0 L1877.0,234.3 L1874.3,234.7 L1871.8,235.2 L1869.4,235.6 L1867.1,236.0 L1864.8,236.2 L1862.4,236.2 L1860.0,236.0 L1857.5,235.5 L1855.0,234.8 L1852.5,234.0 L1850.0,233.0 L1847.5,231.9 L1845.0,230.7 L1842.5,229.4 L1840.0,228.0 L1837.5,226.4 L1835.0,224.5 L1832.5,222.5 L1830.0,220.4 L1827.5,218.3 L1825.0,216.5 L1822.5,215.0 L1820.0,214.0 L1817.5,213.4 L1815.0,213.0 L1812.5,213.0 L1810.0,213.1 L1807.5,213.5 L1805.0,214.1 L1802.5,215.0 L1800.0,216.0 L1797.5,217.2 L1794.9,218.7 L1792.3,220.4 L1789.8,222.2 L1787.2,224.4 L1784.7,226.7 L1782.3,229.2 L1780.0,232.0 L1777.8,235.0 L1775.7,238.2 L1773.7,241.7 L1771.8,245.3 L1769.8,249.2 L1767.9,253.3 L1766.0,257.5 L1764.0,262.0 L1762.0,266.7 L1760.0,271.8 L1758.0,277.1 L1755.9,282.6 L1753.9,288.2 L1751.9,293.8 L1750.0,299.4 L1748.0,305.0 L1746.1,310.5 L1744.2,316.0 L1742.3,321.5 L1740.4,327.1 L1738.6,332.7 L1736.7,338.4 L1734.9,344.1 L1733.0,350.0 L1731.1,356.0 L1729.3,362.1 L1727.5,368.4 L1725.7,374.7 L1723.8,381.0 L1722.0,387.4 L1720.0,393.7 L1718.0,400.0 L1715.9,406.3 L1713.7,412.8 L1711.4,419.4 L1709.1,425.9 L1706.7,432.3 L1704.4,438.5 L1702.2,444.4 L1700.0,450.0 L1697.8,455.4 L1695.5,460.8 L1693.2,466.1 L1690.9,471.1 L1688.7,475.8 L1686.8,479.9 L1685.2,483.3 L1684.0,486.0 Z" fill="#fef7f0" stroke="none"/>
<circle cx="1674.2" cy="488.4" r="5.6" fill="#fbeedd" stroke="#ecc89c" stroke-width="2.2"/>
<circle cx="1700.4" cy="418.7" r="5.5" fill="#fd9f2e" stroke="#c47a1a" stroke-width="2"/>
<circle cx="1703.7" cy="407.6" r="5.5" fill="#fd9f2e" stroke="#c47a1a" stroke-width="2"/>
<circle cx="1703.7" cy="377.7" r="5.5" fill="#fd9f2e" stroke="#c47a1a" stroke-width="2"/>
<circle cx="1704.9" cy="354.3" r="5.5" fill="#fd9f2e" stroke="#c47a1a" stroke-width="2"/>
<circle cx="1715.1" cy="333.8" r="5.5" fill="#fd9f2e" stroke="#c47a1a" stroke-width="2"/>
<circle cx="1737.0" cy="308.3" r="5.5" fill="#fd9f2e" stroke="#c47a1a" stroke-width="2"/>
<circle cx="1748.4" cy="280.7" r="5.5" fill="#fd9f2e" stroke="#c47a1a" stroke-width="2"/>
<circle cx="1766.2" cy="219.1" r="5.5" fill="#fd9f2e" stroke="#c47a1a" stroke-width="2"/>
<circle cx="1782.4" cy="194.0" r="5.5" fill="#fd9f2e" stroke="#c47a1a" stroke-width="2"/>
<circle cx="1803.6" cy="202.3" r="5.5" fill="#fd9f2e" stroke="#c47a1a" stroke-width="2"/>
<circle cx="1826.3" cy="193.3" r="5.5" fill="#fd9f2e" stroke="#c47a1a" stroke-width="2"/>
<circle cx="1838.4" cy="210.3" r="5.5" fill="#fd9f2e" stroke="#c47a1a" stroke-width="2"/>
<circle cx="1849.1" cy="223.5" r="5.5" fill="#fd9f2e" stroke="#c47a1a" stroke-width="2"/>
<circle cx="1865.4" cy="203.3" r="5.5" fill="#fd9f2e" stroke="#c47a1a" stroke-width="2"/>
<circle cx="1879.8" cy="200.5" r="5.5" fill="#fd9f2e" stroke="#c47a1a" stroke-width="2"/>
<circle cx="1895.1" cy="205.1" r="5.5" fill="#fd9f2e" stroke="#c47a1a" stroke-width="2"/>
<circle cx="1905.8" cy="209.4" r="5.5" fill="#fd9f2e" stroke="#c47a1a" stroke-width="2"/>
<circle cx="1927.3" cy="210.3" r="5.5" fill="#fd9f2e" stroke="#c47a1a" stroke-width="2"/>
<circle cx="1944.7" cy="215.2" r="5.5" fill="#fd9f2e" stroke="#c47a1a" stroke-width="2"/>
<circle cx="1964.0" cy="219.5" r="5.5" fill="#fd9f2e" stroke="#c47a1a" stroke-width="2"/>
<circle cx="1984.6" cy="232.7" r="5.5" fill="#fd9f2e" stroke="#c47a1a" stroke-width="2"/>
<circle cx="1683.8" cy="424.2" r="5.3" fill="none" stroke="#e0963c" stroke-width="2.3"/>
<circle cx="1686.0" cy="412.0" r="5.3" fill="none" stroke="#e0963c" stroke-width="2.3"/>
<circle cx="1692.7" cy="386.4" r="5.3" fill="none" stroke="#e0963c" stroke-width="2.3"/>
<circle cx="1711.0" cy="292.9" r="5.3" fill="none" stroke="#e0963c" stroke-width="2.3"/>
<circle cx="1720.6" cy="272.5" r="5.3" fill="none" stroke="#e0963c" stroke-width="2.3"/>
<circle cx="1734.0" cy="220.7" r="5.3" fill="none" stroke="#e0963c" stroke-width="2.3"/>
<circle cx="1745.6" cy="184.8" r="5.3" fill="none" stroke="#e0963c" stroke-width="2.3"/>
<circle cx="1757.9" cy="136.3" r="5.3" fill="none" stroke="#e0963c" stroke-width="2.3"/>
<circle cx="1770.2" cy="97.1" r="5.3" fill="none" stroke="#e0963c" stroke-width="2.3"/>
<circle cx="1783.1" cy="128.4" r="5.3" fill="none" stroke="#e0963c" stroke-width="2.3"/>
<circle cx="1799.0" cy="108.1" r="5.3" fill="none" stroke="#e0963c" stroke-width="2.3"/>
<circle cx="1815.3" cy="164.8" r="5.3" fill="none" stroke="#e0963c" stroke-width="2.3"/>
<circle cx="1824.5" cy="155.6" r="5.3" fill="none" stroke="#e0963c" stroke-width="2.3"/>
<path d="M1675.0,486.2 L1675.6,483.5 L1676.2,480.9 L1676.8,478.3 L1677.5,475.7 L1678.1,473.1 L1678.8,470.5 L1679.5,467.9 L1680.2,465.4 L1680.9,462.8 L1681.6,460.3 L1682.3,457.7 L1683.0,455.2 L1683.8,452.6 L1684.5,450.1 L1685.3,447.6 L1686.0,445.1 L1686.8,442.6 L1687.6,440.1 L1688.4,437.6 L1689.2,435.1 L1690.0,432.6 L1690.8,430.1 L1691.6,427.6 L1692.5,425.2 L1693.3,422.7 L1694.1,420.2 L1695.0,417.8 L1695.8,415.3 L1696.7,412.8 L1697.5,410.4 L1698.4,407.9 L1699.3,405.5 L1700.1,403.0 L1701.0,400.6 L1701.9,398.1 L1702.8,395.7 L1703.7,393.2 L1704.5,390.8 L1705.4,388.3 L1706.3,385.9 L1707.2,383.4 L1708.1,381.0 L1709.0,378.6 L1709.9,376.1 L1710.8,373.7 L1711.6,371.2 L1712.5,368.8 L1713.4,366.3 L1714.3,363.9 L1715.2,361.4 L1716.1,358.9 L1717.0,356.5 L1717.8,354.0 L1718.7,351.5 L1719.6,349.1 L1720.5,346.6 L1721.3,344.1 L1722.2,341.6 L1723.1,339.1 L1723.9,336.6 L1724.8,334.2 L1725.6,331.7 L1726.5,329.2 L1727.4,326.7 L1728.2,324.2 L1729.1,321.7 L1730.0,319.2 L1730.8,316.7 L1731.7,314.2 L1732.6,311.7 L1733.5,309.1 L1734.4,306.7 L1735.3,304.2 L1736.2,301.7 L1737.1,299.2 L1738.1,296.7 L1739.0,294.2 L1739.9,291.7 L1740.9,289.2 L1741.9,286.7 L1742.9,284.3 L1743.9,281.8 L1744.9,279.3 L1745.9,276.9 L1747.0,274.4 L1748.0,272.0 L1749.1,269.5 L1750.2,267.1 L1751.4,264.7 L1752.5,262.2 L1753.7,259.8 L1754.8,257.4 L1756.0,255.0 L1757.3,252.6 L1758.5,250.3 L1759.8,247.9 L1761.1,245.5 L1762.4,243.2 L1763.7,240.9 L1765.1,238.6 L1766.5,236.3 L1768.0,234.0 L1769.4,231.8 L1770.9,229.6 L1772.5,227.4 L1774.0,225.3 L1775.6,223.2 L1777.3,221.2 L1778.9,219.2 L1780.7,217.3 L1782.4,215.4 L1784.2,213.5 L1786.1,211.7 L1788.0,210.0 L1789.9,208.3 L1791.9,206.7 L1793.9,205.2 L1795.9,203.7 L1798.0,202.3 L1800.1,200.9 L1802.3,199.6 L1804.5,198.4 L1806.7,197.3 L1809.0,196.2 L1811.3,195.1 L1813.6,194.1 L1815.9,193.2 L1818.3,192.4 L1820.7,191.6 L1823.1,190.9 L1825.5,190.3 L1828.0,189.7 L1830.4,189.2 L1832.9,188.7 L1835.4,188.3 L1837.9,188.0 L1840.4,187.8 L1843.0,187.6 L1845.5,187.5 L1848.0,187.5 L1850.6,187.5 L1853.1,187.6 L1855.7,187.8 L1858.2,188.0 L1860.8,188.3 L1863.3,188.7 L1865.9,189.1 L1868.4,189.6 L1871.0,190.2 L1873.5,190.9 L1876.0,191.6 L1878.5,192.4 L1881.0,193.2 L1883.5,194.1 L1886.0,195.0 L1888.5,196.0 L1891.0,197.1 L1893.5,198.2 L1895.9,199.3 L1898.4,200.5 L1900.8,201.7 L1903.3,203.0 L1905.7,204.2 L1908.1,205.6 L1910.5,206.9 L1912.9,208.3 L1915.3,209.8 L1917.7,211.2 L1920.1,212.7 L1922.4,214.2 L1924.8,215.7 L1927.1,217.2 L1929.5,218.7 L1931.8,220.3 L1934.1,221.9 L1936.4,223.4 L1938.6,225.0 L1940.9,226.6 L1943.2,228.2 L1945.4,229.8 L1947.6,231.3 L1949.8,232.9 L1952.0,234.5 L1954.2,236.0 L1956.4,237.6 L1958.5,239.1 L1960.6,240.6 L1962.8,242.1 L1964.9,243.6 L1966.9,245.1 L1969.0,246.5 L1971.1,247.9 L1973.1,249.3 L1975.1,250.6 L1977.1,251.9 L1979.1,253.2 L1981.1,254.4 L1983.0,255.6 L1985.0,256.7" fill="none" stroke="#c27a1e" stroke-width="4" stroke-linecap="round"/>
<path d="M1672.4,489.1 L1672.9,486.9 L1673.4,484.8 L1673.9,482.6 L1674.4,480.5 L1674.8,478.3 L1675.3,476.2 L1675.8,474.0 L1676.2,471.9 L1676.7,469.8 L1677.2,467.6 L1677.6,465.5 L1678.1,463.4 L1678.5,461.3 L1679.0,459.1 L1679.4,457.0 L1679.9,454.9 L1680.3,452.8 L1680.8,450.7 L1681.2,448.6 L1681.7,446.5 L1682.1,444.4 L1682.5,442.2 L1683.0,440.1 L1683.4,438.0 L1683.8,435.9 L1684.3,433.8 L1684.7,431.8 L1685.1,429.7 L1685.5,427.6 L1686.0,425.5 L1686.4,423.4 L1686.8,421.3 L1687.2,419.2 L1687.6,417.1 L1688.1,415.0 L1688.5,413.0 L1688.9,410.9 L1689.3,408.8 L1689.7,406.7 L1690.1,404.6 L1690.5,402.6 L1691.0,400.5 L1691.4,398.4 L1691.8,396.3 L1692.2,394.3 L1692.6,392.2 L1693.0,390.1 L1693.4,388.1 L1693.8,386.0 L1694.2,383.9 L1694.6,381.9 L1695.1,379.8 L1695.5,377.7 L1695.9,375.7 L1696.3,373.6 L1696.7,371.5 L1697.1,369.5 L1697.5,367.4 L1697.9,365.3 L1698.3,363.3 L1698.8,361.2 L1699.2,359.2 L1699.6,357.1 L1700.0,355.0 L1700.4,353.0 L1700.8,350.9 L1701.2,348.8 L1701.7,346.8 L1702.1,344.7 L1702.5,342.7 L1702.9,340.6 L1703.4,338.5 L1703.8,336.5 L1704.2,334.4 L1704.6,332.3 L1705.1,330.3 L1705.5,328.2 L1705.9,326.1 L1706.4,324.1 L1706.8,322.0 L1707.3,319.9 L1707.7,317.9 L1708.1,315.8 L1708.6,313.7 L1709.0,311.7 L1709.5,309.6 L1709.9,307.5 L1710.4,305.5 L1710.9,303.4 L1711.3,301.3 L1711.8,299.2 L1712.3,297.2 L1712.7,295.1 L1713.2,293.0 L1713.7,290.9 L1714.1,288.8 L1714.6,286.8 L1715.1,284.7 L1715.6,282.6 L1716.1,280.5 L1716.6,278.4 L1717.1,276.3 L1717.6,274.2 L1718.1,272.1 L1718.6,270.0 L1719.1,268.0 L1719.6,265.9 L1720.1,263.8 L1720.7,261.7 L1721.2,259.5 L1721.7,257.4 L1722.2,255.3 L1722.8,253.2 L1723.3,251.1 L1723.9,249.0 L1724.4,246.9 L1725.0,244.8 L1725.5,242.7 L1726.1,240.5 L1726.7,238.4 L1727.3,236.3 L1727.8,234.2 L1728.4,232.0 L1729.0,229.9 L1729.6,227.8 L1730.2,225.6 L1730.8,223.5 L1731.4,221.3 L1732.0,219.2 L1732.6,217.0 L1733.3,214.9 L1733.9,212.7 L1734.5,210.6 L1735.2,208.4 L1735.8,206.3 L1736.5,204.1 L1737.2,202.0 L1737.9,199.9 L1738.6,197.8 L1739.3,195.7 L1740.0,193.6 L1740.8,191.5 L1741.6,189.4 L1742.4,187.4 L1743.2,185.4 L1744.0,183.4 L1744.9,181.5 L1745.8,179.6 L1746.8,177.7 L1747.7,175.8 L1748.7,174.0 L1749.8,172.2 L1750.8,170.5 L1751.9,168.8 L1753.0,167.1 L1754.2,165.5 L1755.4,163.9 L1756.7,162.4 L1758.0,160.9 L1759.3,159.5 L1760.7,158.2 L1762.2,156.9 L1763.6,155.6 L1765.2,154.4 L1766.8,153.3 L1768.4,152.3 L1770.1,151.3 L1771.8,150.4 L1773.6,149.5 L1775.4,148.8 L1777.3,148.1 L1779.2,147.5 L1781.1,146.9 L1783.1,146.5 L1785.1,146.1 L1787.1,145.9 L1789.1,145.7 L1791.2,145.6 L1793.2,145.6 L1795.3,145.7 L1797.4,145.9 L1799.5,146.2 L1801.6,146.6 L1803.7,147.1 L1805.8,147.7 L1807.8,148.4 L1809.9,149.2 L1811.9,150.1 L1813.8,151.1 L1815.8,152.2 L1817.7,153.4 L1819.6,154.8 L1821.4,156.2 L1823.1,157.8 L1824.9,159.5 L1826.5,161.2 L1828.1,163.2 L1829.6,165.2 L1831.0,167.3" fill="none" stroke="#fcd27a" stroke-width="4.3" stroke-linecap="round"/>
<rect x="1665.8" y="73.3" width="331.6" height="425.9" fill="none" stroke="#000" stroke-width="1.5"/>
<line x1="1655.8" y1="111.0" x2="1665.8" y2="111.0" stroke="#000" stroke-width="1.5" />
<text x="1647.9" y="123.3" font-family="'Liberation Sans', Arial, sans-serif" font-size="26.5" text-anchor="end" fill="#000" >20</text>
<line x1="1660.8" y1="299.5" x2="1665.8" y2="299.5" stroke="#000" stroke-width="1.5" />
<line x1="1655.8" y1="488.5" x2="1665.8" y2="488.5" stroke="#000" stroke-width="1.5" />
<text x="1647.9" y="500.8" font-family="'Liberation Sans', Arial, sans-serif" font-size="26.5" text-anchor="end" fill="#000" >0</text>
<line x1="1674.2" y1="499.2" x2="1674.2" y2="507.2" stroke="#000" stroke-width="1.5" />
<text x="1674.2" y="532.6" font-family="'Liberation Sans', Arial, sans-serif" font-size="26.5" text-anchor="middle" fill="#000" >0</text>
<line x1="1821.8" y1="499.2" x2="1821.8" y2="503.2" stroke="#000" stroke-width="1.5" />
<line x1="1968.9" y1="499.2" x2="1968.9" y2="507.2" stroke="#000" stroke-width="1.5" />
<text x="1968.9" y="532.6" font-family="'Liberation Sans', Arial, sans-serif" font-size="26.5" text-anchor="middle" fill="#000" >4</text>
<line x1="1675.7" y1="65.3" x2="1675.7" y2="73.3" stroke="#000" stroke-width="1.5" />
<text x="1675.7" y="56.4" font-family="'Liberation Sans', Arial, sans-serif" font-size="26.5" text-anchor="middle" fill="#000" >0</text>
<line x1="1803.1" y1="69.3" x2="1803.1" y2="73.3" stroke="#000" stroke-width="1.5" />
<line x1="1930.7" y1="65.3" x2="1930.7" y2="73.3" stroke="#000" stroke-width="1.5" />
<text x="1930.7" y="56.4" font-family="'Liberation Sans', Arial, sans-serif" font-size="26.5" text-anchor="middle" fill="#000" >30</text>
<text x="1768.8" y="46.1" font-family="'Liberation Serif', 'Times New Roman', serif" font-size="34.5">Ω</text>
<text x="1802.5" y="46.1" font-family="'Liberation Sans', Arial, sans-serif" font-size="31.5">(T)</text>
<text x="1737.1" y="577.9" font-family="'Liberation Sans', Arial, sans-serif" font-size="31.0">2</text>
<text x="1755.2" y="577.9" font-family="'Liberation Sans', Arial, sans-serif" font-size="32.5">µ</text>
<text x="1773.9" y="586.8" font-family="'Liberation Sans', Arial, sans-serif" font-size="23.2">B</text>
<text x="1789.4" y="577.9" font-family="'Liberation Serif', 'Times New Roman', serif" font-size="38.7">Ω</text>
<text x="1827.1" y="577.9" font-family="'Liberation Sans', Arial, sans-serif" font-size="31.9">(meV)</text>
<g transform="translate(1595.2,325.9) rotate(-90)"><text x="0" y="0" font-family="'Liberation Sans', Arial, sans-serif" font-size="31.5">S</text><text x="20.5" y="9.7" font-family="'Liberation Sans', Arial, sans-serif" font-size="32.8">‖</text><text x="37.9" y="0" font-family="'Liberation Sans', Arial, sans-serif" font-size="31.3">(%)</text></g>
<text x="1827.5" y="126" font-family="'Liberation Sans', Arial, sans-serif" font-size="26.3">WSe<tspan font-size="19" dy="6">2</tspan></text>
<text x="1893.3" y="178.1" font-family="'Liberation Sans', Arial, sans-serif" font-size="26.3">MoSe<tspan font-size="19" dy="6">2</tspan></text>
<rect x="1818.6" y="287.7" width="156.9000000000001" height="152.2" fill="#fff" stroke="none"/>
<path d="M1821.4,422.6 L1823.2,422.8 L1824.9,422.9 L1826.6,422.9 L1828.3,423.0 L1830.0,423.0 L1831.7,422.9 L1833.3,422.9 L1835.0,422.8 L1836.6,422.6 L1838.2,422.5 L1839.8,422.3 L1841.4,422.1 L1843.0,421.9 L1844.6,421.6 L1846.1,421.3 L1847.7,421.0 L1849.2,420.6 L1850.7,420.2 L1852.2,419.8 L1853.7,419.4 L1855.2,418.9 L1856.7,418.4 L1858.2,417.9 L1859.6,417.4 L1861.1,416.8 L1862.5,416.2 L1863.9,415.6 L1865.3,415.0 L1866.7,414.3 L1868.1,413.6 L1869.5,412.9 L1870.9,412.2 L1872.2,411.5 L1873.6,410.7 L1874.9,409.9 L1876.3,409.1 L1877.6,408.3 L1878.9,407.4 L1880.2,406.6 L1881.5,405.7 L1882.8,404.8 L1884.1,403.9 L1885.4,402.9 L1886.6,402.0 L1887.9,401.0 L1889.1,400.0 L1890.4,399.0 L1891.6,398.0 L1892.8,396.9 L1894.1,395.9 L1895.3,394.8 L1896.5,393.7 L1897.7,392.6 L1898.9,391.5 L1900.1,390.4 L1901.2,389.3 L1902.4,388.1 L1903.6,387.0 L1904.7,385.8 L1905.9,384.6 L1907.1,383.4 L1908.2,382.2 L1909.3,381.0 L1910.5,379.8 L1911.6,378.6 L1912.7,377.3 L1913.8,376.1 L1915.0,374.8 L1916.1,373.5 L1917.2,372.3 L1918.3,371.0 L1919.4,369.7 L1920.5,368.4 L1921.6,367.1 L1922.7,365.8 L1923.7,364.5 L1924.8,363.1 L1925.9,361.8 L1927.0,360.5 L1928.0,359.2 L1929.1,357.8 L1930.2,356.5 L1931.2,355.1 L1932.3,353.8 L1933.4,352.4 L1934.4,351.1 L1935.5,349.7 L1936.5,348.4 L1937.6,347.0 L1938.6,345.7 L1939.7,344.3 L1940.7,342.9 L1941.8,341.6 L1942.8,340.2 L1943.9,338.9 L1944.9,337.5 L1945.9,336.2 L1947.0,334.8 L1948.0,333.4 L1949.1,332.1 L1950.1,330.8 L1951.2,329.4 L1952.2,328.1 L1953.2,326.7 L1954.3,325.4 L1955.3,324.1 L1956.4,322.7 L1957.4,321.4 L1958.5,320.1 L1959.5,318.8 L1960.6,317.5 L1961.6,316.2 L1962.7,314.9 L1963.8,313.6 L1964.8,312.4 L1965.9,311.1 L1966.9,309.8 L1968.0,308.6 L1969.1,307.4 L1969.1,334.7 L1968.0,335.6 L1966.9,336.4 L1965.9,337.3 L1964.8,338.2 L1963.8,339.0 L1962.7,339.9 L1961.6,340.9 L1960.6,341.8 L1959.5,342.7 L1958.5,343.6 L1957.4,344.6 L1956.4,345.5 L1955.3,346.5 L1954.3,347.5 L1953.2,348.5 L1952.2,349.5 L1951.2,350.5 L1950.1,351.5 L1949.1,352.5 L1948.0,353.5 L1947.0,354.5 L1945.9,355.5 L1944.9,356.6 L1943.9,357.6 L1942.8,358.7 L1941.8,359.7 L1940.7,360.7 L1939.7,361.8 L1938.6,362.9 L1937.6,363.9 L1936.5,365.0 L1935.5,366.0 L1934.4,367.1 L1933.4,368.2 L1932.3,369.2 L1931.2,370.3 L1930.2,371.3 L1929.1,372.4 L1928.0,373.5 L1927.0,374.5 L1925.9,375.6 L1924.8,376.6 L1923.7,377.7 L1922.7,378.7 L1921.6,379.8 L1920.5,380.8 L1919.4,381.9 L1918.3,382.9 L1917.2,383.9 L1916.1,385.0 L1915.0,386.0 L1913.8,387.0 L1912.7,388.0 L1911.6,389.0 L1910.5,390.0 L1909.3,391.0 L1908.2,392.0 L1907.1,393.0 L1905.9,393.9 L1904.7,394.9 L1903.6,395.8 L1902.4,396.8 L1901.2,397.7 L1900.1,398.6 L1898.9,399.6 L1897.7,400.5 L1896.5,401.3 L1895.3,402.2 L1894.1,403.1 L1892.8,403.9 L1891.6,404.8 L1890.4,405.6 L1889.1,406.4 L1887.9,407.2 L1886.6,408.0 L1885.4,408.8 L1884.1,409.6 L1882.8,410.3 L1881.5,411.1 L1880.2,411.8 L1878.9,412.5 L1877.6,413.2 L1876.3,413.8 L1874.9,414.5 L1873.6,415.1 L1872.2,415.8 L1870.9,416.4 L1869.5,417.0 L1868.1,417.5 L1866.7,418.1 L1865.3,418.6 L1863.9,419.1 L1862.5,419.6 L1861.1,420.1 L1859.6,420.5 L1858.2,421.0 L1856.7,421.4 L1855.2,421.8 L1853.7,422.1 L1852.2,422.5 L1850.7,422.8 L1849.2,423.1 L1847.7,423.4 L1846.1,423.7 L1844.6,423.9 L1843.0,424.1 L1841.4,424.3 L1839.8,424.5 L1838.2,424.6 L1836.6,424.7 L1835.0,424.8 L1833.3,424.9 L1831.7,424.9 L1830.0,424.9 L1828.3,424.9 L1826.6,424.8 L1824.9,424.8 L1823.2,424.7 L1821.4,424.5 Z" fill="#fde9da" stroke="none"/>
<path d="M1821.4,423.6 L1822.5,423.7 L1823.5,423.8 L1824.5,423.8 L1825.6,423.9 L1826.6,423.9 L1827.6,424.0 L1828.6,424.0 L1829.6,424.0 L1830.6,424.0 L1831.6,424.0 L1832.6,423.9 L1833.6,423.9 L1834.6,423.9 L1835.6,423.8 L1836.5,423.7 L1837.5,423.7 L1838.5,423.6 L1839.4,423.5 L1840.4,423.4 L1841.4,423.3 L1842.3,423.1 L1843.2,423.0 L1844.2,422.9 L1845.1,422.7 L1846.0,422.5 L1847.0,422.4 L1847.9,422.2 L1848.8,422.0 L1849.7,421.8 L1850.6,421.6 L1851.5,421.4 L1852.4,421.2 L1853.3,420.9 L1854.2,420.7 L1855.1,420.4 L1856.0,420.2 L1856.9,419.9 L1857.8,419.6 L1858.6,419.4 L1859.5,419.1 L1860.4,418.8 L1861.2,418.5 L1862.1,418.2 L1862.9,417.8 L1863.8,417.5 L1864.6,417.2 L1865.5,416.8 L1866.3,416.5 L1867.2,416.1 L1868.0,415.7 L1868.8,415.4 L1869.6,415.0 L1870.5,414.6 L1871.3,414.2 L1872.1,413.8 L1872.9,413.4 L1873.7,413.0 L1874.5,412.6 L1875.3,412.1 L1876.1,411.7 L1876.9,411.2 L1877.7,410.8 L1878.5,410.3 L1879.3,409.9 L1880.0,409.4 L1880.8,408.9 L1881.6,408.5 L1882.4,408.0 L1883.1,407.5 L1883.9,407.0 L1884.7,406.5 L1885.4,406.0 L1886.2,405.5 L1886.9,404.9 L1887.7,404.4 L1888.4,403.9 L1889.2,403.4 L1889.9,402.8 L1890.7,402.3 L1891.4,401.7 L1892.2,401.2 L1892.9,400.6 L1893.6,400.0 L1894.3,399.5 L1895.1,398.9 L1895.8,398.3 L1896.5,397.7 L1897.2,397.1 L1897.9,396.5 L1898.7,395.9 L1899.4,395.3 L1900.1,394.7 L1900.8,394.1 L1901.5,393.5 L1902.2,392.9 L1902.9,392.3 L1903.6,391.6 L1904.3,391.0 L1905.0,390.4 L1905.7,389.7 L1906.4,389.1 L1907.0,388.5 L1907.7,387.8 L1908.4,387.2 L1909.1,386.5 L1909.8,385.9 L1910.5,385.2 L1911.1,384.5 L1911.8,383.9 L1912.5,383.2 L1913.1,382.5 L1913.8,381.9 L1914.5,381.2 L1915.2,380.5 L1915.8,379.8 L1916.5,379.1 L1917.1,378.5 L1917.8,377.8 L1918.5,377.1 L1919.1,376.4 L1919.8,375.7 L1920.4,375.0 L1921.1,374.3 L1921.7,373.6 L1922.4,372.9 L1923.0,372.2 L1923.7,371.5 L1924.3,370.8 L1925.0,370.1 L1925.6,369.4 L1926.3,368.7 L1926.9,368.0 L1927.5,367.2 L1928.2,366.5 L1928.8,365.8 L1929.5,365.1 L1930.1,364.4 L1930.7,363.7 L1931.4,363.0 L1932.0,362.2 L1932.6,361.5 L1933.3,360.8 L1933.9,360.1 L1934.5,359.4 L1935.2,358.7 L1935.8,357.9 L1936.4,357.2 L1937.0,356.5 L1937.7,355.8 L1938.3,355.1 L1938.9,354.4 L1939.6,353.6 L1940.2,352.9 L1940.8,352.2 L1941.4,351.5 L1942.1,350.8 L1942.7,350.1 L1943.3,349.3 L1943.9,348.6 L1944.6,347.9 L1945.2,347.2 L1945.8,346.5 L1946.4,345.8 L1947.1,345.1 L1947.7,344.4 L1948.3,343.7 L1948.9,343.0 L1949.6,342.3 L1950.2,341.6 L1950.8,340.9 L1951.4,340.2 L1952.1,339.5 L1952.7,338.8 L1953.3,338.1 L1953.9,337.4 L1954.6,336.7 L1955.2,336.1 L1955.8,335.4 L1956.4,334.7 L1957.1,334.0 L1957.7,333.4 L1958.3,332.7 L1958.9,332.0 L1959.6,331.4 L1960.2,330.7 L1960.8,330.0 L1961.5,329.4 L1962.1,328.7 L1962.7,328.1 L1963.4,327.4 L1964.0,326.8 L1964.6,326.1 L1965.3,325.5 L1965.9,324.9 L1966.5,324.2 L1967.2,323.6 L1967.8,323.0 L1968.4,322.4 L1969.1,321.8" fill="none" stroke="#c47a1a" stroke-width="3.6" stroke-linecap="round"/>
<path d="M1821.7,426.5 L1822.2,426.5 L1822.7,426.5 L1823.2,426.5 L1823.7,426.5 L1824.2,426.5 L1824.7,426.5 L1825.2,426.5 L1825.7,426.5 L1826.2,426.5 L1826.7,426.4 L1827.2,426.4 L1827.7,426.4 L1828.2,426.3 L1828.7,426.3 L1829.2,426.2 L1829.7,426.2 L1830.2,426.2 L1830.7,426.1 L1831.2,426.0 L1831.7,426.0 L1832.1,425.9 L1832.6,425.9 L1833.1,425.8 L1833.6,425.7 L1834.1,425.6 L1834.6,425.6 L1835.1,425.5 L1835.5,425.4 L1836.0,425.3 L1836.5,425.2 L1837.0,425.1 L1837.5,425.0 L1837.9,424.9 L1838.4,424.8 L1838.9,424.7 L1839.4,424.6 L1839.8,424.5 L1840.3,424.4 L1840.8,424.3 L1841.3,424.2 L1841.7,424.0 L1842.2,423.9 L1842.7,423.8 L1843.1,423.6 L1843.6,423.5 L1844.1,423.4 L1844.5,423.2 L1845.0,423.1 L1845.4,422.9 L1845.9,422.8 L1846.4,422.6 L1846.8,422.5 L1847.3,422.3 L1847.7,422.2 L1848.2,422.0 L1848.6,421.8 L1849.1,421.7 L1849.6,421.5 L1850.0,421.3 L1850.5,421.1 L1850.9,421.0 L1851.3,420.8 L1851.8,420.6 L1852.2,420.4 L1852.7,420.2 L1853.1,420.0 L1853.6,419.8 L1854.0,419.6 L1854.4,419.4 L1854.9,419.2 L1855.3,419.0 L1855.7,418.8 L1856.2,418.6 L1856.6,418.4 L1857.0,418.1 L1857.5,417.9 L1857.9,417.7 L1858.3,417.5 L1858.8,417.2 L1859.2,417.0 L1859.6,416.8 L1860.0,416.5 L1860.4,416.3 L1860.9,416.1 L1861.3,415.8 L1861.7,415.6 L1862.1,415.3 L1862.5,415.1 L1862.9,414.8 L1863.4,414.6 L1863.8,414.3 L1864.2,414.1 L1864.6,413.8 L1865.0,413.5 L1865.4,413.3 L1865.8,413.0 L1866.2,412.7 L1866.6,412.5 L1867.0,412.2 L1867.4,411.9 L1867.8,411.6 L1868.2,411.3 L1868.6,411.1 L1868.9,410.8 L1869.3,410.5 L1869.7,410.2 L1870.1,409.9 L1870.5,409.6 L1870.9,409.3 L1871.3,409.0 L1871.6,408.7 L1872.0,408.4 L1872.4,408.1 L1872.8,407.8 L1873.1,407.5 L1873.5,407.2 L1873.9,406.8 L1874.2,406.5 L1874.6,406.2 L1875.0,405.9 L1875.3,405.6 L1875.7,405.2 L1876.1,404.9 L1876.4,404.6 L1876.8,404.2 L1877.1,403.9 L1877.5,403.6 L1877.8,403.2 L1878.2,402.9 L1878.5,402.6 L1878.9,402.2 L1879.2,401.9 L1879.6,401.5 L1879.9,401.2 L1880.2,400.8 L1880.6,400.5 L1880.9,400.1 L1881.2,399.8 L1881.6,399.4 L1881.9,399.1 L1882.2,398.7 L1882.6,398.3 L1882.9,398.0 L1883.2,397.6 L1883.5,397.2 L1883.8,396.9 L1884.2,396.5 L1884.5,396.1 L1884.8,395.7 L1885.1,395.4 L1885.4,395.0 L1885.7,394.6 L1886.0,394.2 L1886.3,393.8 L1886.6,393.5 L1886.9,393.1 L1887.2,392.7 L1887.5,392.3 L1887.8,391.9 L1888.1,391.5 L1888.4,391.1 L1888.7,390.7 L1889.0,390.3 L1889.2,389.9 L1889.5,389.5 L1889.8,389.1 L1890.1,388.7 L1890.4,388.3 L1890.6,387.9 L1890.9,387.5 L1891.2,387.1 L1891.4,386.7 L1891.7,386.3 L1892.0,385.9 L1892.2,385.4 L1892.5,385.0 L1892.7,384.6 L1893.0,384.2 L1893.2,383.8 L1893.5,383.4 L1893.7,382.9 L1894.0,382.5 L1894.2,382.1 L1894.5,381.7 L1894.7,381.2 L1894.9,380.8 L1895.2,380.4 L1895.4,379.9 L1895.6,379.5 L1895.9,379.1 L1896.1,378.6 L1896.3,378.2 L1896.5,377.8 L1896.8,377.3 L1897.0,376.9 L1897.2,376.4 L1897.4,376.0 L1897.6,375.6 L1897.8,375.1" fill="none" stroke="#f7b517" stroke-width="3.6" stroke-linecap="round"/>
<rect x="1818.6" y="287.7" width="156.9" height="152.2" fill="none" stroke="#000" stroke-width="1.5"/>
<line x1="1809.1" y1="301.3" x2="1818.6" y2="301.3" stroke="#000" stroke-width="1.5" />
<text x="1803.0" y="310.8" font-family="'Liberation Sans', Arial, sans-serif" font-size="20.5" text-anchor="end" fill="#000" >10</text>
<line x1="1813.9" y1="369.8" x2="1818.6" y2="369.8" stroke="#000" stroke-width="1.5" />
<line x1="1809.1" y1="438.9" x2="1818.6" y2="438.9" stroke="#000" stroke-width="1.5" />
<text x="1803.0" y="448.4" font-family="'Liberation Sans', Arial, sans-serif" font-size="20.5" text-anchor="end" fill="#000" >0</text>
<line x1="1822.3" y1="439.9" x2="1822.3" y2="448.9" stroke="#000" stroke-width="1.5" />
<text x="1822.3" y="473.0" font-family="'Liberation Sans', Arial, sans-serif" font-size="21" text-anchor="middle" fill="#000" >0</text>
<line x1="1883.1" y1="439.9" x2="1883.1" y2="444.4" stroke="#000" stroke-width="1.5" />
<line x1="1942.7" y1="439.9" x2="1942.7" y2="448.9" stroke="#000" stroke-width="1.5" />
<text x="1942.7" y="473.0" font-family="'Liberation Sans', Arial, sans-serif" font-size="21" text-anchor="middle" fill="#000" >30</text>
<text x="1854" y="484" font-family="'Liberation Serif', 'Times New Roman', serif" font-size="31.5">Ω</text>
<text x="1881" y="481" font-family="'Liberation Sans', Arial, sans-serif" font-size="24">(T)</text>
<g transform="translate(1791.9,402.8) rotate(-90)"><text x="0" y="0" font-family="'Liberation Sans', Arial, sans-serif" font-size="24.2">T</text><text x="14.1" y="7.1" font-family="'Liberation Sans', Arial, sans-serif" font-size="25.5">‖</text><text x="28.9" y="0" font-family="'Liberation Sans', Arial, sans-serif" font-size="25.5">(ps)</text></g>
<defs>
<radialGradient id="sph" cx="0.6" cy="0.36" r="0.72" fx="0.6" fy="0.3">
 <stop offset="0" stop-color="#fcfcfc"/><stop offset="0.35" stop-color="#f8f8f8"/><stop offset="0.62" stop-color="#f1f1f1"/><stop offset="0.85" stop-color="#e8e8e8"/><stop offset="1" stop-color="#e0e0e0"/>
</radialGradient>
<radialGradient id="blob" cx="0.5" cy="0.5" r="0.5">
 <stop offset="0" stop-color="#4a80d0" stop-opacity="1"/><stop offset="0.3" stop-color="#5289d3" stop-opacity="0.95"/><stop offset="0.55" stop-color="#7fa8e0" stop-opacity="0.7"/><stop offset="0.8" stop-color="#b9d0ef" stop-opacity="0.35"/><stop offset="1" stop-color="#d6e3f5" stop-opacity="0"/>
</radialGradient>
</defs>
<circle cx="249" cy="267" r="161" fill="url(#sph)"/>
<path d="M88,268 A161,27 0 0 1 410,268" fill="none" stroke="#d2d2d2" stroke-width="1.1" stroke-dasharray="4.5,3.5"/>
<path d="M250,106.2 A65,161 0 0 1 314,262" fill="none" stroke="#d2d2d2" stroke-width="1.1" stroke-dasharray="4.5,3.5"/>
<path d="M88,268 A161,52 0 0 0 410,268" fill="none" stroke="#cbcbcb" stroke-width="1.2"/>
<path d="M250,106.2 A79,161 0 0 0 249,428" fill="none" stroke="#cbcbcb" stroke-width="1.2"/>
<path d="M186.0,318.0 L187.3,319.1 L189.0,320.6 L191.1,322.3 L193.4,324.2 L195.7,326.0 L198.0,327.5 L200.3,328.8 L202.7,330.1 L205.2,331.3 L207.7,332.4 L210.2,333.5 L212.6,334.5 L214.9,335.5 L217.1,336.3 L219.3,337.2 L221.5,337.9 L223.8,338.7 L226.0,339.5 L228.3,340.3 L230.7,341.1 L233.0,341.9 L235.4,342.7 L237.7,343.4 L239.9,344.0 L242.0,344.6 L244.1,345.1 L246.2,345.5 L248.2,345.9 L250.1,346.2 L252.0,346.5 L253.8,346.7 L255.5,346.8 L257.1,346.9 L258.7,346.9 L260.4,346.9 L262.0,346.8 L263.7,346.6 L265.3,346.4 L267.0,346.1 L268.7,345.8 L270.3,345.4 L272.0,345.0 L273.7,344.4 L275.3,343.7 L277.0,343.0 L278.7,342.3 L280.3,341.8 L282.0,341.5 L283.7,341.4 L285.4,341.4 L287.1,341.5 L288.8,341.9 L290.4,342.7 L292.0,344.0 L293.5,346.1 L295.1,348.9 L296.6,352.2 L298.0,355.4 L299.2,358.1 L300.0,360.0 L298.0,405.0 L297.1,406.0 L295.9,407.5 L294.5,409.2 L293.0,410.9 L291.4,412.6 L290.0,414.0 L288.7,415.2 L287.3,416.3 L285.9,417.3 L284.6,418.2 L283.3,419.0 L282.0,419.5 L280.8,419.9 L279.8,420.1 L278.8,420.1 L277.8,419.9 L276.6,419.6 L275.3,419.0 L273.8,418.1 L272.2,416.9 L270.5,415.5 L268.7,414.0 L266.8,412.4 L265.0,411.0 L263.2,409.6 L261.3,408.2 L259.3,406.7 L257.4,405.3 L255.4,403.9 L253.5,402.6 L251.6,401.4 L249.6,400.3 L247.7,399.2 L245.7,398.2 L243.8,397.1 L242.0,396.0 L240.2,394.9 L238.5,393.8 L236.8,392.6 L235.1,391.5 L233.4,390.3 L231.7,389.0 L229.9,387.6 L228.1,386.2 L226.2,384.7 L224.4,383.1 L222.7,381.6 L221.0,380.0 L219.5,378.4 L218.1,376.9 L216.7,375.2 L215.4,373.6 L214.0,371.9 L212.6,370.0 L211.1,368.0 L209.5,365.9 L207.9,363.8 L206.2,361.5 L204.6,359.3 L203.0,357.0 L201.4,354.6 L199.8,352.2 L198.1,349.6 L196.5,347.2 L195.0,344.8 L193.5,342.7 L192.1,340.8 L190.8,339.0 L189.5,337.4 L188.2,335.9 L187.1,334.4 L186.0,333.0 L185.0,331.6 L184.0,330.2 L183.0,328.9 L182.2,327.7 L181.5,326.7 L181.0,326.0 Z" fill="#d3e2f4" opacity="0.9"/>
<ellipse cx="285.5" cy="380" rx="46" ry="50" fill="url(#blob)"/>
<path d="M196,385 C220,386.5 245,387 262,386.3" fill="none" stroke="#8a8a8a" stroke-width="1.3"/>
<path d="M284.5,319.5 L287.2,351" fill="none" stroke="#8a8a8a" stroke-width="1.3"/>
<ellipse cx="286.2" cy="380" rx="30.5" ry="39.2" transform="rotate(6 286.2 380)" fill="none" stroke="#e4ecf8" stroke-width="1.4" stroke-dasharray="4.5,3" opacity="0.95"/>
<ellipse cx="285.1" cy="381" rx="8.6" ry="10.2" fill="none" stroke="#fff" stroke-width="2.4" stroke-dasharray="5,2.5"/>
<path d="M288.1,369.7 L291.5,357" stroke="#fff" stroke-width="2.8" stroke-dasharray="4,2.5" fill="none"/>
<polygon points="297.5,341 302.2,361.2 284,355.6" fill="#fff"/>
<path d="M281.5,392.2 L278.8,402" stroke="#fff" stroke-width="2.8" stroke-dasharray="4,2.5" fill="none"/>
<polygon points="275,419.3 271.2,399.6 290,406.2" fill="#fff"/>
<line x1="250" y1="270.5" x2="428" y2="270.5" stroke="#7aa3d3" stroke-width="3.4"/>
<polygon points="426.5,262.8 442.5,270.5 426.5,278.2" fill="#7aa3d3"/>
<line x1="250.4" y1="261" x2="250.4" y2="270" stroke="#aaa" stroke-width="1.2"/>
<polygon points="247.5,266.6 206.0,295.2 200.5,287.0 187.3,313.2 216.6,311.2 211.1,302.9 252.5,274.2" fill="#dedcfa"/>
<circle cx="250" cy="270.4" r="1.8" fill="#111"/>
<path d="M186,316.5 C215,318.3 250,319.6 284.5,319.4" fill="none" stroke="#e28b24" stroke-width="3"/>
<polygon points="240.5,319.6 222,309.6 222.8,330" fill="#e28b24"/>
<path d="M178.2,322 C181,340 187,362 196,385" fill="none" stroke="#b83236" stroke-width="3"/>
<polygon points="186.6,360 173.6,350.4 192.2,345" fill="#b83236"/>
<circle cx="176.6" cy="315.1" r="10.8" fill="#5b8fd8"/>
<path d="M45.4,317.2 L46.3,317.2 L47.5,317.2 L49.0,317.3 L50.6,317.3 L52.3,317.3 L54.1,317.4 L55.8,317.4 L57.4,317.4 L58.8,317.3 L60.0,317.3 L61.0,317.2 L61.8,317.2 L62.5,317.1 L63.1,317.0 L63.6,316.9 L64.1,316.8 L64.6,316.7 L65.0,316.5 L65.5,316.3 L66.0,316.0 L66.5,315.6 L67.0,315.0 L67.5,314.3 L68.0,313.5 L68.4,312.7 L68.9,312.0 L69.3,311.5 L69.7,311.2 L70.0,311.2 L70.4,311.6 L70.7,312.6 L70.9,314.3 L71.1,316.5 L71.2,319.0 L71.4,321.5 L71.5,323.9 L71.7,325.9 L72.0,327.4 L72.3,328.0 L72.8,327.7 L73.4,326.0 L74.2,322.8 L75.1,318.6 L76.0,313.8 L77.0,308.7 L77.9,303.8 L78.9,299.4 L79.8,296.0 L80.6,294.0 L81.2,293.7 L81.7,295.6 L82.0,299.7 L82.3,305.2 L82.5,311.8 L82.7,318.9 L82.8,325.8 L83.0,332.1 L83.3,337.3 L83.6,340.8 L84.1,342.0 L84.7,340.6 L85.5,336.8 L86.3,331.3 L87.2,324.6 L88.1,317.3 L89.1,310.0 L90.0,303.2 L90.9,297.5 L91.8,293.6 L92.5,291.9 L93.2,292.7 L93.8,295.7 L94.3,300.1 L94.8,305.7 L95.3,311.9 L95.8,318.2 L96.3,324.2 L96.8,329.2 L97.3,333.0 L97.9,334.9 L98.5,334.9 L99.2,333.5 L99.8,330.9 L100.5,327.5 L101.2,323.7 L101.9,319.7 L102.5,315.9 L103.2,312.5 L103.8,310.0 L104.4,308.6 L104.9,308.3 L105.4,308.8 L105.9,310.0 L106.3,311.5 L106.8,313.3 L107.2,315.3 L107.6,317.1 L108.1,318.7 L108.6,320.0 L109.2,320.6 L109.8,320.7 L110.5,320.4 L111.2,319.8 L112.0,319.1 L112.8,318.2 L113.5,317.2 L114.3,316.3 L115.0,315.5 L115.7,314.9 L116.3,314.6 L116.8,314.5 L117.2,314.7 L117.6,314.9 L117.9,315.3 L118.2,315.7 L118.5,316.1 L118.9,316.6 L119.4,317.0 L120.1,317.3 L121.0,317.5 L122.2,317.6 L123.6,317.7 L125.2,317.7 L127.0,317.7 L128.8,317.7 L130.6,317.7 L132.3,317.7 L133.8,317.6 L135.1,317.6 L136.0,317.6" fill="none" stroke="#7f7f7f" stroke-width="4.3" stroke-linejoin="round" stroke-linecap="round"/>
<polygon points="133.6,310 148.8,317.6 133.6,325.3" fill="#7f7f7f"/>
<path d="M343.0,405.4 L344.1,405.4 L345.5,405.4 L347.2,405.4 L349.1,405.4 L351.1,405.4 L353.2,405.4 L355.2,405.3 L357.0,405.3 L358.7,405.1 L360.0,405.0 L361.1,404.8 L361.9,404.6 L362.7,404.3 L363.3,404.0 L363.8,403.7 L364.3,403.4 L364.7,403.0 L365.1,402.7 L365.5,402.3 L366.0,402.0 L366.5,401.6 L366.9,400.9 L367.3,400.2 L367.7,399.5 L368.0,398.8 L368.3,398.2 L368.7,397.7 L369.0,397.6 L369.3,397.7 L369.6,398.2 L369.9,399.4 L370.1,401.3 L370.3,403.7 L370.4,406.5 L370.6,409.3 L370.8,411.9 L371.0,414.2 L371.3,415.9 L371.8,416.7 L372.3,416.5 L373.0,414.8 L373.9,411.7 L374.9,407.5 L375.9,402.6 L377.1,397.5 L378.2,392.5 L379.2,388.1 L380.2,384.6 L381.1,382.5 L381.8,382.2 L382.3,384.1 L382.7,388.1 L382.9,393.7 L383.1,400.2 L383.2,407.3 L383.3,414.2 L383.4,420.6 L383.7,425.7 L384.0,429.2 L384.5,430.4 L385.2,429.0 L385.9,425.2 L386.8,419.7 L387.8,413.1 L388.8,405.8 L389.8,398.5 L390.8,391.8 L391.8,386.1 L392.6,382.2 L393.4,380.5 L394.0,381.3 L394.6,384.2 L395.1,388.7 L395.6,394.2 L396.0,400.4 L396.4,406.7 L396.9,412.6 L397.3,417.6 L397.8,421.3 L398.4,423.2 L399.0,423.2 L399.7,421.7 L400.5,419.1 L401.2,415.7 L402.0,411.8 L402.7,407.7 L403.5,403.9 L404.2,400.5 L404.9,398.0 L405.6,396.6 L406.2,396.4 L406.8,396.9 L407.3,398.1 L407.9,399.8 L408.4,401.7 L408.9,403.8 L409.4,405.7 L410.0,407.4 L410.5,408.7 L411.1,409.3 L411.7,409.3 L412.4,409.0 L413.1,408.3 L413.8,407.3 L414.5,406.2 L415.1,405.1 L415.8,404.1 L416.5,403.1 L417.2,402.5 L417.8,402.1 L418.4,402.1 L419.0,402.2 L419.6,402.6 L420.1,403.1 L420.7,403.6 L421.2,404.2 L421.7,404.8 L422.3,405.3 L422.8,405.7 L423.3,406.0 L423.8,406.1 L424.4,406.2 L424.9,406.2 L425.5,406.1 L426.0,406.0 L426.5,405.9 L427.0,405.8 L427.4,405.6 L427.7,405.5 L428.0,405.5" fill="none" stroke="#7f7f7f" stroke-width="4.3" stroke-linejoin="round" stroke-linecap="round"/>
<polygon points="426.1,397.8 440.7,404.5 426.1,412.8" fill="#7f7f7f"/>
<path d="M428.4,384.3 L427.7,384.1 L426.7,383.9 L425.6,383.7 L424.3,383.5 L423.0,383.2 L421.6,382.8 L420.3,382.5 L419.1,382.1 L418.0,381.7 L417.2,381.2 L416.5,380.7 L416.0,380.2 L415.5,379.6 L415.1,379.0 L414.8,378.4 L414.6,377.7 L414.4,377.0 L414.4,376.3 L414.3,375.5 L414.4,374.6 L414.5,373.7 L414.7,372.7 L414.9,371.6 L415.3,370.5 L415.6,369.3 L416.1,368.1 L416.7,366.9 L417.4,365.7 L418.1,364.5 L419.0,363.4 L420.0,362.2 L421.2,361.0 L422.5,359.8 L424.0,358.5 L425.5,357.3 L427.0,356.1 L428.6,355.0 L430.1,353.9 L431.7,353.0 L433.1,352.2 L434.5,351.5 L436.0,350.9 L437.5,350.4 L438.9,349.9 L440.4,349.5 L441.8,349.2 L443.2,349.0 L444.6,348.9 L445.9,348.9 L447.1,348.9 L448.3,349.1 L449.4,349.3 L450.6,349.7 L451.7,350.1 L452.7,350.7 L453.7,351.2 L454.6,351.9 L455.3,352.6 L456.0,353.3 L456.5,354.0 L456.9,354.8 L457.1,355.6 L457.2,356.5 L457.3,357.5 L457.2,358.5 L457.0,359.5 L456.8,360.5 L456.6,361.5 L456.3,362.5 L456.0,363.4 L455.6,364.3 L455.2,365.2 L454.6,366.1 L454.0,367.0 L453.4,367.8 L452.8,368.7 L452.1,369.5 L451.5,370.2 L451.0,370.9 L450.5,371.5 L450.1,372.0 L449.7,372.5 L449.3,372.9 L449.0,373.2 L448.7,373.5 L448.4,373.8 L448.1,374.0 L447.9,374.2 L447.7,374.3 L447.5,374.5" fill="none" stroke="#7f7f7f" stroke-width="3.4"/>
<polygon points="445.7,368.1 449.2,383.7 439.2,381.2" fill="#7f7f7f"/>
<polygon points="16.5,289 25.7,276.1 27.4,280.2 47.8,268.9 46.1,265.2 62.8,266.2 53.6,279.1 50.9,276.1 31.1,286 31.8,289.7" fill="#858585"/>
<line x1="62.3" y1="471.2" x2="62.3" y2="441" stroke="#000" stroke-width="2"/>
<polygon points="57.7,442 62.3,432.6 66.9,442" fill="#000"/>
<line x1="62.3" y1="471.2" x2="92" y2="471.2" stroke="#000" stroke-width="2"/>
<polygon points="91.5,466.6 100.9,471.2 91.5,475.8" fill="#000"/>
<line x1="62.3" y1="471.2" x2="85" y2="458" stroke="#000" stroke-width="2"/>
<polygon points="82.2,454.2 91.8,453.6 86.8,462" fill="#000"/>
<text x="45.5" y="429.5" font-family="'DejaVu Serif', serif" font-style="italic" font-size="23">z</text>
<text x="92.5" y="441.5" font-family="'DejaVu Serif', serif" font-style="italic" font-size="24">y</text>
<text x="99.5" y="490" font-family="'DejaVu Serif', serif" font-style="italic" font-size="24">x</text>
<text x="25.8" y="362.9" font-family="'DejaVu Serif', serif" font-style="italic" font-size="28.5">ħω</text><text x="65.8" y="369.1" font-family="'DejaVu Serif', serif" font-style="italic" font-size="22" letter-spacing="0.8">in</text>
<text x="343" y="459.8" font-family="'DejaVu Serif', serif" font-style="italic" font-size="28.5">ħω</text><text x="383" y="466" font-family="'DejaVu Serif', serif" font-style="italic" font-size="22" letter-spacing="0">out</text>
<text x="413.5" y="247.9" font-family="'Liberation Serif', 'Times New Roman', serif" font-size="37" fill="#7ba3d0" transform="translate(413.5,0) scale(0.99,1) translate(-413.5,0)">Ω</text>
<text x="250.2" y="302.2" font-family="'DejaVu Serif', serif" font-stretch="condensed" font-style="italic" stroke-width="0.55" font-size="32" fill="#e28b24" stroke="#e28b24">T</text>
<text x="267.6" y="310.5" font-family="'Liberation Sans', Arial, sans-serif" font-size="27" fill="#e28b24">‖</text>
<text x="133.9" y="368" font-family="'DejaVu Serif', serif" font-stretch="condensed" font-style="italic" stroke-width="0.55" font-size="32" fill="#b83236" stroke="#b83236">T</text>
<text x="150.2" y="374.6" font-family="'DejaVu Sans', sans-serif" font-size="20" fill="#b83236">⊥</text>
<text x="306.2" y="344.4" font-family="'DejaVu Serif', serif" font-stretch="condensed" font-style="italic" stroke-width="0.55" font-size="32" stroke="#000">T</text><text x="323.5" y="350.5" font-family="'DejaVu Serif', serif" font-style="italic" font-size="24" letter-spacing="0.6" stroke="#000" stroke-width="0.3">coh</text>
</svg>
</body></html>
